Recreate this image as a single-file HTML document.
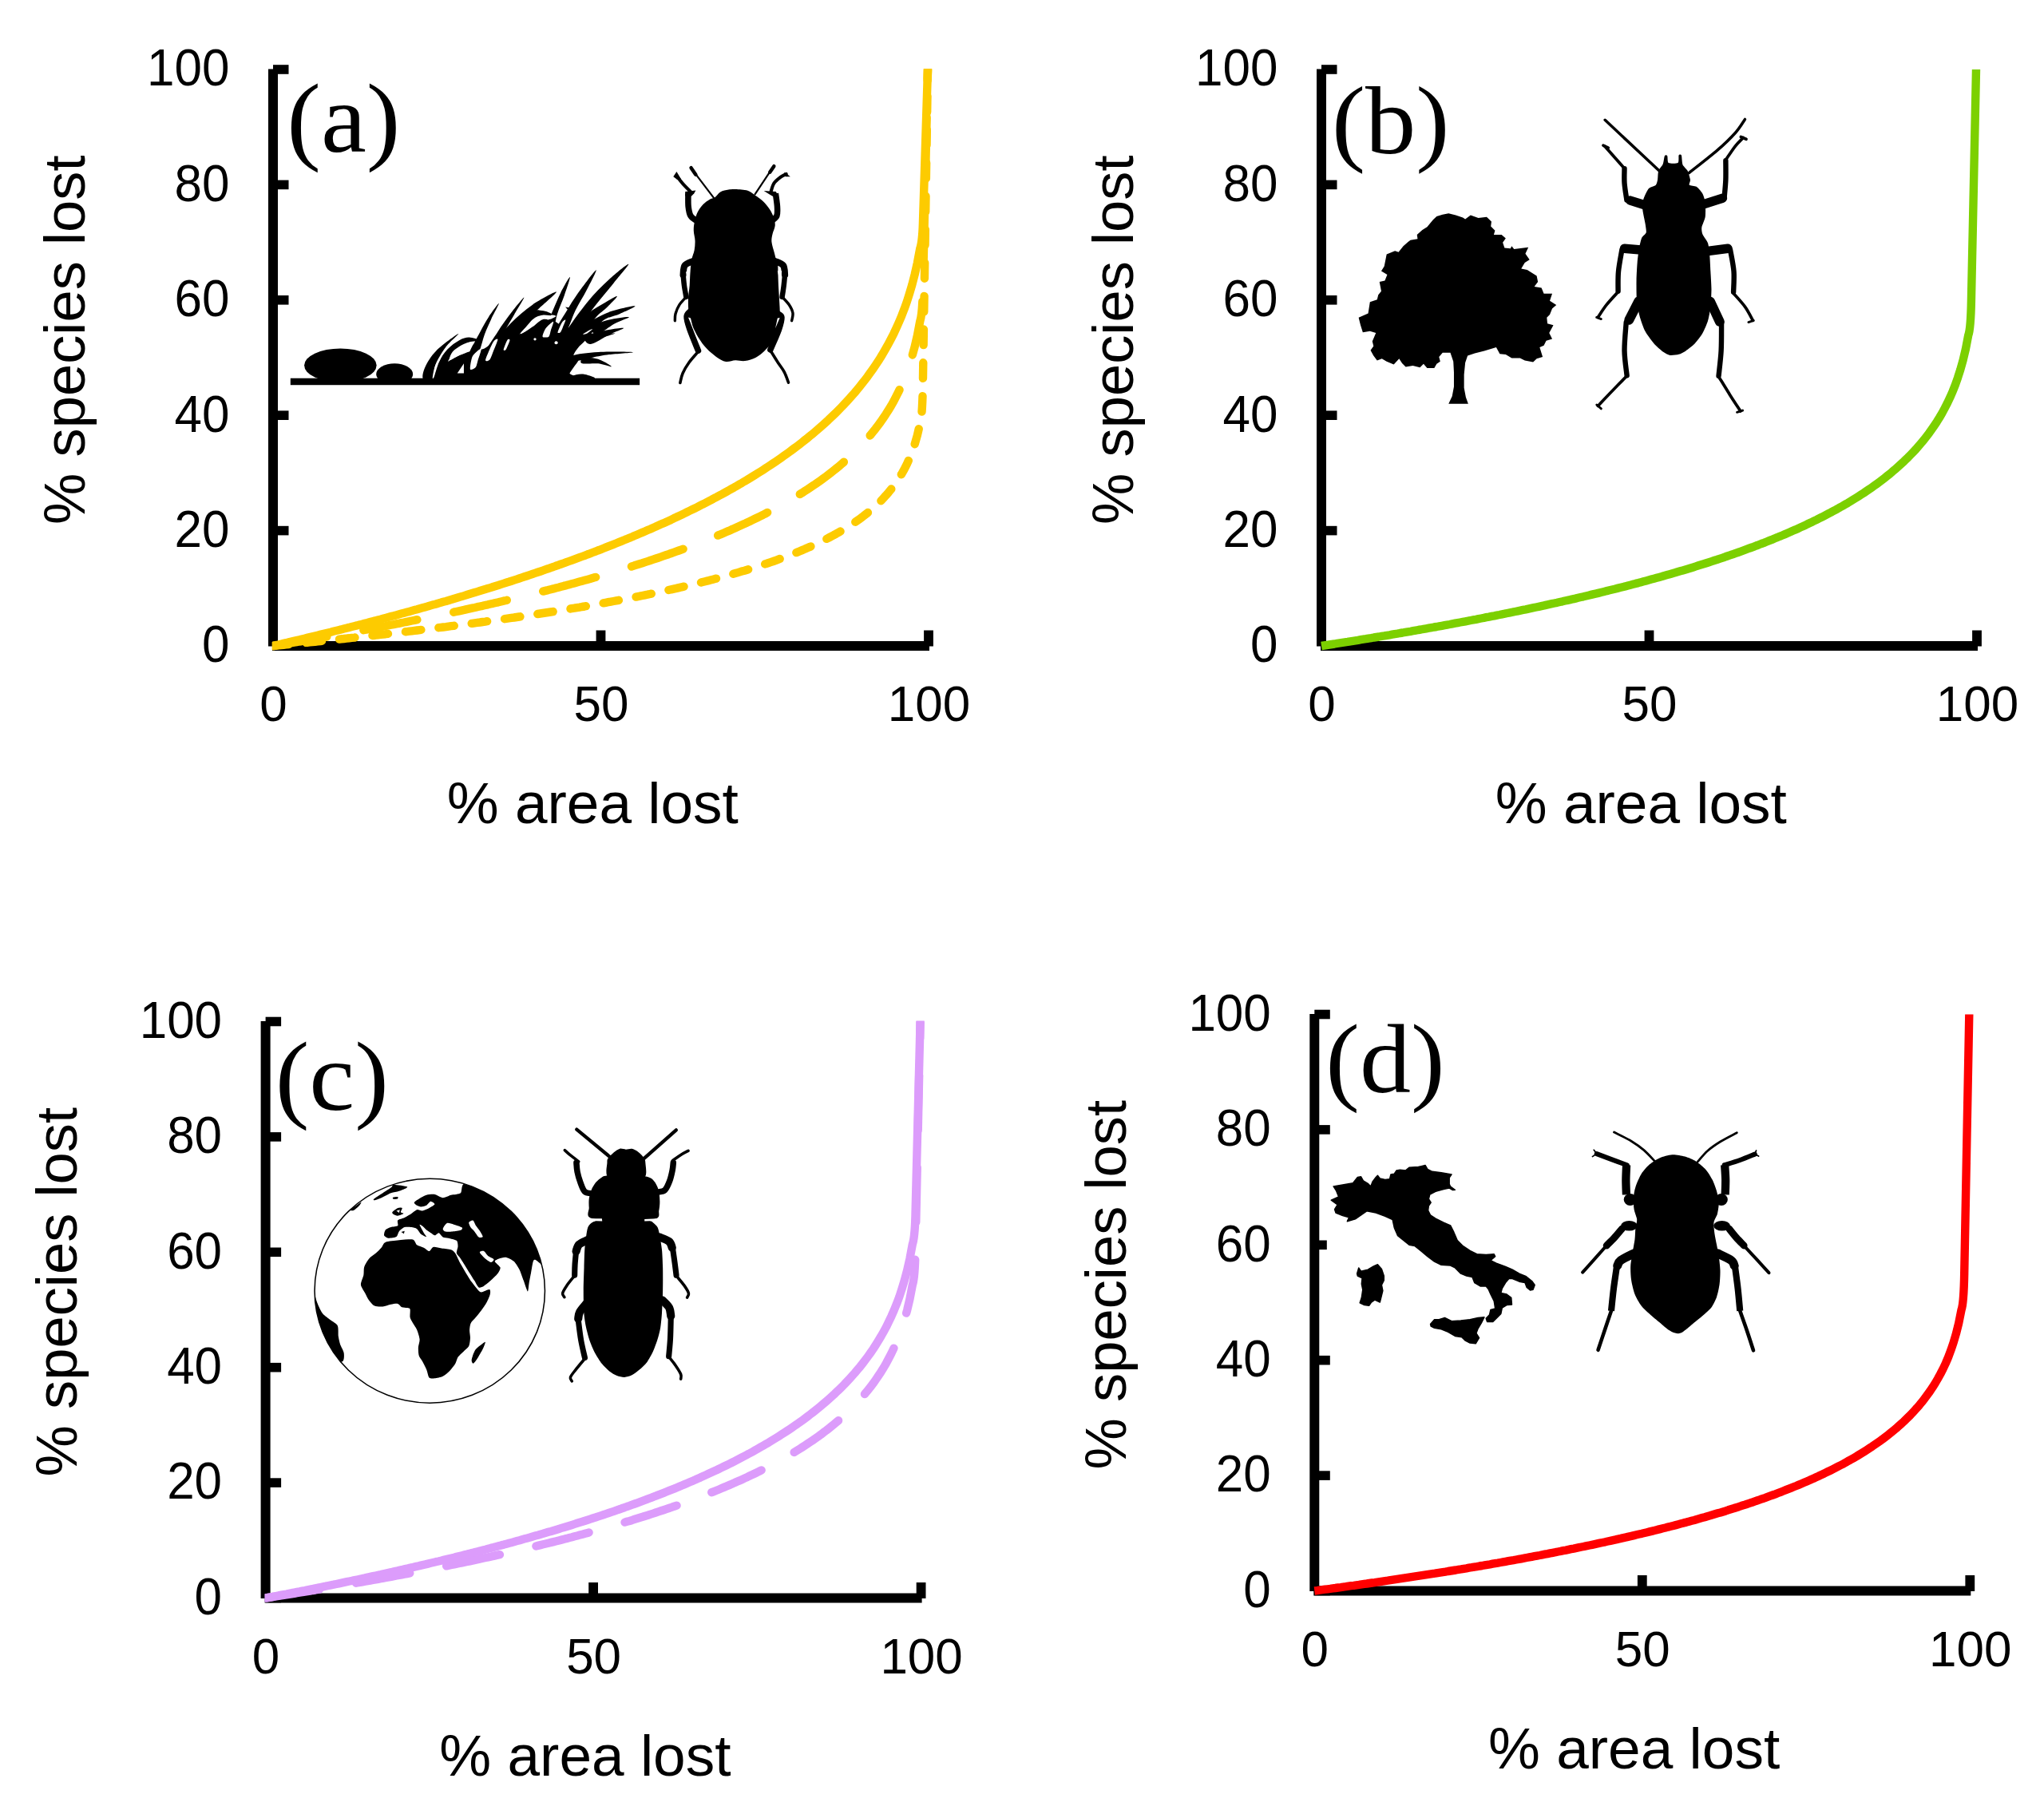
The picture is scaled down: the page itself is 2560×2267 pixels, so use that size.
<!DOCTYPE html>
<html><head><meta charset="utf-8"><title>Species-area loss curves</title>
<style>
html,body{margin:0;padding:0;background:#fff;}
svg{display:block;}
.t{font-family:"Liberation Sans",sans-serif;font-size:62px;fill:#000;}
.a{font-family:"Liberation Sans",sans-serif;font-size:73px;fill:#000;}
.p{font-family:"Liberation Serif",serif;font-size:128px;fill:#000;}
</style></head><body>
<svg width="2560" height="2267" viewBox="0 0 2560 2267">
<rect width="2560" height="2267" fill="#fff"/>
<g>
<rect x="336" y="86.5" width="12" height="723" fill="#000"/>
<rect x="341" y="803" width="823" height="12" fill="#000"/>
<rect x="342" y="803.2" width="19.5" height="11.6" fill="#000"/>
<rect x="342" y="658.8" width="19.5" height="11.6" fill="#000"/>
<rect x="342" y="514.4" width="19.5" height="11.6" fill="#000"/>
<rect x="342" y="370" width="19.5" height="11.6" fill="#000"/>
<rect x="342" y="225.6" width="19.5" height="11.6" fill="#000"/>
<rect x="342" y="81.2" width="19.5" height="11.6" fill="#000"/>
<rect x="746.6" y="789.5" width="11.8" height="19.5" fill="#000"/>
<rect x="1157.1" y="789.5" width="11.8" height="20" fill="#000"/>
<text class="t" text-anchor="end" transform="translate(287.5 829.3) scale(1 1.035)">0</text>
<text class="t" text-anchor="end" transform="translate(287.5 684.9) scale(1 1.035)">20</text>
<text class="t" text-anchor="end" transform="translate(287.5 540.5) scale(1 1.035)">40</text>
<text class="t" text-anchor="end" transform="translate(287.5 396.1) scale(1 1.035)">60</text>
<text class="t" text-anchor="end" transform="translate(287.5 251.7) scale(1 1.035)">80</text>
<text class="t" text-anchor="end" transform="translate(287.5 107.3) scale(1 1.035)">100</text>
<text class="t" text-anchor="middle" transform="translate(342.5 903.3) scale(1 1.025)">0</text>
<text class="t" text-anchor="middle" transform="translate(753 903.3) scale(1 1.025)">50</text>
<text class="t" text-anchor="middle" transform="translate(1163.5 903.3) scale(1 1.025)">100</text>
<text class="a" text-anchor="middle" x="742.3" y="1031">% area lost</text>
<text class="a" style="font-size:72.4px" text-anchor="middle" transform="translate(105.7 425.7) rotate(-90)">% species lost</text>
<text class="p" transform="translate(359.3 190) scale(1 0.962)">(a)</text>
<clipPath id="cla"><rect x="340.8" y="86" width="840" height="740"/></clipPath>
<g clip-path="url(#cla)">
<path d="M342 809 L345.3 808.7 L348.6 808.4 L351.8 808 L355.1 807.7 L358.4 807.4 L361.7 807.1 L365 806.7 L368.2 806.4 L371.5 806.1 L374.8 805.8 L378.1 805.4 L381.4 805.1 L384.6 804.8 L387.9 804.4 L391.2 804.1 L394.5 803.8 L397.8 803.4 L401 803.1 L404.3 802.7 L407.6 802.4 L410.9 802.1 L414.2 801.7 L417.4 801.4 L420.7 801 L424 800.7 L427.3 800.3 L430.6 800 L433.8 799.6 L437.1 799.3 L440.4 798.9 L443.7 798.6 L447 798.2 L450.2 797.8 L453.5 797.5 L456.8 797.1 L460.1 796.8 L463.4 796.4 L466.6 796 L469.9 795.7 L473.2 795.3 L476.5 794.9 L479.8 794.5 L483 794.2 L486.3 793.8 L489.6 793.4 L492.9 793 L496.2 792.6 L499.4 792.3 L502.7 791.9 L506 791.5 L509.3 791.1 L512.6 790.7 L515.8 790.3 L519.1 789.9 L522.4 789.5 L525.7 789.1 L529 788.7 L532.2 788.3 L535.5 787.9 L538.8 787.5 L542.1 787.1 L545.4 786.7 L548.6 786.3 L551.9 785.9 L555.2 785.5 L558.5 785.1 L561.8 784.6 L565 784.2 L568.3 783.8 L571.6 783.4 L574.9 782.9 L578.2 782.5 L581.4 782.1 L584.7 781.7 L588 781.2 L591.3 780.8 L594.6 780.3 L597.8 779.9 L601.1 779.5 L604.4 779 L607.7 778.6 L611 778.1 L614.2 777.7 L617.5 777.2 L620.8 776.7 L624.1 776.3 L627.4 775.8 L630.6 775.4 L633.9 774.9 L637.2 774.4 L640.5 773.9 L643.8 773.5 L647 773 L650.3 772.5 L653.6 772 L656.9 771.5 L660.2 771 L663.4 770.5 L666.7 770 L670 769.5 L673.3 769 L676.6 768.5 L679.8 768 L683.1 767.5 L686.4 767 L689.7 766.5 L693 766 L696.2 765.4 L699.5 764.9 L702.8 764.4 L706.1 763.9 L709.4 763.3 L712.6 762.8 L715.9 762.2 L719.2 761.7 L722.5 761.1 L725.8 760.6 L729 760 L732.3 759.5 L735.6 758.9 L738.9 758.3 L742.2 757.7 L745.4 757.2 L748.7 756.6 L752 756 L755.3 755.4 L758.6 754.8 L761.8 754.2 L765.1 753.6 L768.4 753 L771.7 752.4 L775 751.8 L778.2 751.1 L781.5 750.5 L784.8 749.9 L788.1 749.3 L791.4 748.6 L794.6 748 L797.9 747.3 L801.2 746.7 L804.5 746 L807.8 745.3 L811 744.7 L814.3 744 L817.6 743.3 L820.9 742.6 L824.2 741.9 L827.4 741.2 L830.7 740.5 L834 739.8 L837.3 739.1 L840.6 738.3 L843.8 737.6 L847.1 736.9 L850.4 736.1 L853.7 735.3 L857 734.6 L860.2 733.8 L863.5 733 L866.8 732.3 L870.1 731.5 L873.4 730.7 L876.6 729.9 L879.9 729 L883.2 728.2 L886.5 727.4 L889.8 726.5 L893 725.7 L896.3 724.8 L899.6 723.9 L902.9 723.1 L906.2 722.2 L909.4 721.3 L912.7 720.4 L916 719.4 L919.3 718.5 L922.6 717.6 L925.8 716.6 L929.1 715.6 L932.4 714.7 L935.7 713.7 L939 712.7 L942.2 711.6 L945.5 710.6 L948.8 709.6 L952.1 708.5 L955.4 707.4 L958.6 706.3 L961.9 705.2 L965.2 704.1 L968.5 703 L971.8 701.8 L975 700.6 L978.3 699.4 L981.6 698.2 L984.9 697 L988.2 695.7 L991.4 694.5 L994.7 693.2 L998 691.9 L1001.3 690.5 L1004.6 689.1 L1007.8 687.8 L1011.1 686.3 L1014.4 684.9 L1017.7 683.4 L1021 681.9 L1024.2 680.4 L1027.5 678.8 L1030.8 677.2 L1034.1 675.5 L1037.4 673.9 L1040.6 672.1 L1043.9 670.4 L1047.2 668.6 L1050.5 666.7 L1053.8 664.8 L1057 662.9 L1060.3 660.9 L1063.6 658.8 L1066.9 656.7 L1070.2 654.5 L1073.4 652.2 L1076.7 649.9 L1080 647.5 L1083.3 644.9 L1086.6 642.3 L1089.8 639.6 L1093.1 636.8 L1096.4 633.9 L1099.7 630.8 L1103 627.6 L1106.2 624.2 L1109.5 620.6 L1112.8 616.8 L1116.1 612.8 L1119.4 608.6 L1122.6 604 L1125.9 599.1 L1129.2 593.7 L1132.5 587.9 L1135.8 581.4 L1139 574.2 L1142.3 566 L1145.6 556.5 L1148.9 545.1 L1152.2 530.9 Q1155.2 524.2 1155.9 478.5 L1162 87" fill="none" stroke="#FDCB00" stroke-width="10.4" stroke-linecap="round" stroke-linejoin="round" stroke-dasharray="19.6 22.12"/>
<path d="M342 809 L345.3 808.5 L348.6 807.9 L351.8 807.4 L355.1 806.8 L358.4 806.3 L361.7 805.7 L365 805.2 L368.2 804.6 L371.5 804.1 L374.8 803.5 L378.1 803 L381.4 802.4 L384.6 801.8 L387.9 801.3 L391.2 800.7 L394.5 800.1 L397.8 799.6 L401 799 L404.3 798.4 L407.6 797.8 L410.9 797.3 L414.2 796.7 L417.4 796.1 L420.7 795.5 L424 794.9 L427.3 794.3 L430.6 793.7 L433.8 793.1 L437.1 792.5 L440.4 791.9 L443.7 791.3 L447 790.7 L450.2 790.1 L453.5 789.5 L456.8 788.9 L460.1 788.3 L463.4 787.7 L466.6 787.1 L469.9 786.5 L473.2 785.8 L476.5 785.2 L479.8 784.6 L483 784 L486.3 783.3 L489.6 782.7 L492.9 782.1 L496.2 781.4 L499.4 780.8 L502.7 780.1 L506 779.5 L509.3 778.8 L512.6 778.2 L515.8 777.5 L519.1 776.9 L522.4 776.2 L525.7 775.6 L529 774.9 L532.2 774.2 L535.5 773.6 L538.8 772.9 L542.1 772.2 L545.4 771.5 L548.6 770.8 L551.9 770.2 L555.2 769.5 L558.5 768.8 L561.8 768.1 L565 767.4 L568.3 766.7 L571.6 766 L574.9 765.3 L578.2 764.6 L581.4 763.9 L584.7 763.1 L588 762.4 L591.3 761.7 L594.6 761 L597.8 760.2 L601.1 759.5 L604.4 758.8 L607.7 758 L611 757.3 L614.2 756.5 L617.5 755.8 L620.8 755 L624.1 754.3 L627.4 753.5 L630.6 752.7 L633.9 752 L637.2 751.2 L640.5 750.4 L643.8 749.6 L647 748.8 L650.3 748.1 L653.6 747.3 L656.9 746.5 L660.2 745.7 L663.4 744.9 L666.7 744 L670 743.2 L673.3 742.4 L676.6 741.6 L679.8 740.7 L683.1 739.9 L686.4 739.1 L689.7 738.2 L693 737.4 L696.2 736.5 L699.5 735.7 L702.8 734.8 L706.1 733.9 L709.4 733.1 L712.6 732.2 L715.9 731.3 L719.2 730.4 L722.5 729.5 L725.8 728.6 L729 727.7 L732.3 726.8 L735.6 725.9 L738.9 725 L742.2 724 L745.4 723.1 L748.7 722.2 L752 721.2 L755.3 720.3 L758.6 719.3 L761.8 718.4 L765.1 717.4 L768.4 716.4 L771.7 715.4 L775 714.4 L778.2 713.4 L781.5 712.4 L784.8 711.4 L788.1 710.4 L791.4 709.4 L794.6 708.3 L797.9 707.3 L801.2 706.2 L804.5 705.2 L807.8 704.1 L811 703.1 L814.3 702 L817.6 700.9 L820.9 699.8 L824.2 698.7 L827.4 697.6 L830.7 696.4 L834 695.3 L837.3 694.2 L840.6 693 L843.8 691.9 L847.1 690.7 L850.4 689.5 L853.7 688.3 L857 687.1 L860.2 685.9 L863.5 684.7 L866.8 683.4 L870.1 682.2 L873.4 680.9 L876.6 679.7 L879.9 678.4 L883.2 677.1 L886.5 675.8 L889.8 674.5 L893 673.1 L896.3 671.8 L899.6 670.4 L902.9 669.1 L906.2 667.7 L909.4 666.3 L912.7 664.9 L916 663.4 L919.3 662 L922.6 660.5 L925.8 659.1 L929.1 657.6 L932.4 656.1 L935.7 654.5 L939 653 L942.2 651.4 L945.5 649.8 L948.8 648.2 L952.1 646.6 L955.4 645 L958.6 643.3 L961.9 641.6 L965.2 639.9 L968.5 638.2 L971.8 636.4 L975 634.6 L978.3 632.8 L981.6 631 L984.9 629.1 L988.2 627.2 L991.4 625.3 L994.7 623.3 L998 621.4 L1001.3 619.3 L1004.6 617.3 L1007.8 615.2 L1011.1 613.1 L1014.4 610.9 L1017.7 608.7 L1021 606.5 L1024.2 604.2 L1027.5 601.9 L1030.8 599.5 L1034.1 597.1 L1037.4 594.6 L1040.6 592.1 L1043.9 589.5 L1047.2 586.9 L1050.5 584.2 L1053.8 581.4 L1057 578.6 L1060.3 575.7 L1063.6 572.7 L1066.9 569.6 L1070.2 566.4 L1073.4 563.2 L1076.7 559.8 L1080 556.4 L1083.3 552.8 L1086.6 549.1 L1089.8 545.3 L1093.1 541.3 L1096.4 537.2 L1099.7 532.9 L1103 528.4 L1106.2 523.7 L1109.5 518.8 L1112.8 513.6 L1116.1 508.2 L1119.4 502.4 L1122.6 496.2 L1125.9 489.6 L1129.2 482.5 L1132.5 474.8 L1135.8 466.3 L1139 457 L1142.3 446.4 L1145.6 434.4 L1148.9 420.2 L1152.2 402.8 Q1155.2 394.3 1155.9 361.7 L1162 87" fill="none" stroke="#FDCB00" stroke-width="10.4" stroke-linecap="round" stroke-linejoin="round" stroke-dasharray="68.3 46.75"/>
<path d="M342 809 L345.3 808.2 L348.6 807.5 L351.8 806.7 L355.1 805.9 L358.4 805.2 L361.7 804.4 L365 803.6 L368.2 802.8 L371.5 802 L374.8 801.3 L378.1 800.5 L381.4 799.7 L384.6 798.9 L387.9 798.1 L391.2 797.3 L394.5 796.5 L397.8 795.7 L401 794.9 L404.3 794.1 L407.6 793.3 L410.9 792.5 L414.2 791.7 L417.4 790.8 L420.7 790 L424 789.2 L427.3 788.4 L430.6 787.5 L433.8 786.7 L437.1 785.9 L440.4 785 L443.7 784.2 L447 783.4 L450.2 782.5 L453.5 781.7 L456.8 780.8 L460.1 780 L463.4 779.1 L466.6 778.2 L469.9 777.4 L473.2 776.5 L476.5 775.7 L479.8 774.8 L483 773.9 L486.3 773 L489.6 772.1 L492.9 771.3 L496.2 770.4 L499.4 769.5 L502.7 768.6 L506 767.7 L509.3 766.8 L512.6 765.9 L515.8 765 L519.1 764.1 L522.4 763.2 L525.7 762.2 L529 761.3 L532.2 760.4 L535.5 759.5 L538.8 758.5 L542.1 757.6 L545.4 756.7 L548.6 755.7 L551.9 754.8 L555.2 753.8 L558.5 752.9 L561.8 751.9 L565 751 L568.3 750 L571.6 749 L574.9 748 L578.2 747.1 L581.4 746.1 L584.7 745.1 L588 744.1 L591.3 743.1 L594.6 742.1 L597.8 741.1 L601.1 740.1 L604.4 739.1 L607.7 738.1 L611 737.1 L614.2 736.1 L617.5 735 L620.8 734 L624.1 733 L627.4 731.9 L630.6 730.9 L633.9 729.8 L637.2 728.8 L640.5 727.7 L643.8 726.6 L647 725.6 L650.3 724.5 L653.6 723.4 L656.9 722.3 L660.2 721.2 L663.4 720.1 L666.7 719 L670 717.9 L673.3 716.8 L676.6 715.7 L679.8 714.6 L683.1 713.4 L686.4 712.3 L689.7 711.1 L693 710 L696.2 708.8 L699.5 707.7 L702.8 706.5 L706.1 705.4 L709.4 704.2 L712.6 703 L715.9 701.8 L719.2 700.6 L722.5 699.4 L725.8 698.2 L729 697 L732.3 695.8 L735.6 694.5 L738.9 693.3 L742.2 692 L745.4 690.8 L748.7 689.5 L752 688.3 L755.3 687 L758.6 685.7 L761.8 684.4 L765.1 683.1 L768.4 681.8 L771.7 680.5 L775 679.2 L778.2 677.9 L781.5 676.5 L784.8 675.2 L788.1 673.8 L791.4 672.5 L794.6 671.1 L797.9 669.7 L801.2 668.3 L804.5 666.9 L807.8 665.5 L811 664.1 L814.3 662.7 L817.6 661.2 L820.9 659.8 L824.2 658.3 L827.4 656.8 L830.7 655.4 L834 653.9 L837.3 652.4 L840.6 650.9 L843.8 649.3 L847.1 647.8 L850.4 646.2 L853.7 644.7 L857 643.1 L860.2 641.5 L863.5 639.9 L866.8 638.3 L870.1 636.7 L873.4 635.1 L876.6 633.4 L879.9 631.7 L883.2 630.1 L886.5 628.4 L889.8 626.7 L893 624.9 L896.3 623.2 L899.6 621.4 L902.9 619.7 L906.2 617.9 L909.4 616.1 L912.7 614.2 L916 612.4 L919.3 610.6 L922.6 608.7 L925.8 606.8 L929.1 604.9 L932.4 602.9 L935.7 601 L939 599 L942.2 597 L945.5 595 L948.8 592.9 L952.1 590.9 L955.4 588.8 L958.6 586.7 L961.9 584.5 L965.2 582.4 L968.5 580.2 L971.8 577.9 L975 575.7 L978.3 573.4 L981.6 571.1 L984.9 568.8 L988.2 566.4 L991.4 564 L994.7 561.5 L998 559.1 L1001.3 556.6 L1004.6 554 L1007.8 551.4 L1011.1 548.8 L1014.4 546.1 L1017.7 543.4 L1021 540.6 L1024.2 537.8 L1027.5 535 L1030.8 532.1 L1034.1 529.1 L1037.4 526.1 L1040.6 523 L1043.9 519.9 L1047.2 516.7 L1050.5 513.4 L1053.8 510 L1057 506.6 L1060.3 503.1 L1063.6 499.5 L1066.9 495.8 L1070.2 492.1 L1073.4 488.2 L1076.7 484.2 L1080 480.1 L1083.3 475.9 L1086.6 471.6 L1089.8 467.1 L1093.1 462.4 L1096.4 457.6 L1099.7 452.7 L1103 447.5 L1106.2 442.1 L1109.5 436.4 L1112.8 430.5 L1116.1 424.3 L1119.4 417.8 L1122.6 410.9 L1125.9 403.5 L1129.2 395.7 L1132.5 387.2 L1135.8 378 L1139 367.9 L1142.3 356.7 L1145.6 344 L1148.9 329.3 L1152.2 311.6 Q1155.2 303.2 1155.9 279.7 L1162 87" fill="none" stroke="#FDCB00" stroke-width="10.4" stroke-linejoin="round"/>
</g>
</g>
<g>
<rect x="1649" y="86.5" width="12" height="723" fill="#000"/>
<rect x="1654" y="803" width="823" height="12" fill="#000"/>
<rect x="1655" y="803.2" width="19.5" height="11.6" fill="#000"/>
<rect x="1655" y="658.8" width="19.5" height="11.6" fill="#000"/>
<rect x="1655" y="514.4" width="19.5" height="11.6" fill="#000"/>
<rect x="1655" y="370" width="19.5" height="11.6" fill="#000"/>
<rect x="1655" y="225.6" width="19.5" height="11.6" fill="#000"/>
<rect x="1655" y="81.2" width="19.5" height="11.6" fill="#000"/>
<rect x="2059.6" y="789.5" width="11.8" height="19.5" fill="#000"/>
<rect x="2470.1" y="789.5" width="11.8" height="20" fill="#000"/>
<text class="t" text-anchor="end" transform="translate(1600.5 829.3) scale(1 1.035)">0</text>
<text class="t" text-anchor="end" transform="translate(1600.5 684.9) scale(1 1.035)">20</text>
<text class="t" text-anchor="end" transform="translate(1600.5 540.5) scale(1 1.035)">40</text>
<text class="t" text-anchor="end" transform="translate(1600.5 396.1) scale(1 1.035)">60</text>
<text class="t" text-anchor="end" transform="translate(1600.5 251.7) scale(1 1.035)">80</text>
<text class="t" text-anchor="end" transform="translate(1600.5 107.3) scale(1 1.035)">100</text>
<text class="t" text-anchor="middle" transform="translate(1655.5 903.3) scale(1 1.025)">0</text>
<text class="t" text-anchor="middle" transform="translate(2066 903.3) scale(1 1.025)">50</text>
<text class="t" text-anchor="middle" transform="translate(2476.5 903.3) scale(1 1.025)">100</text>
<text class="a" text-anchor="middle" x="2055.3" y="1031">% area lost</text>
<text class="a" style="font-size:72.4px" text-anchor="middle" transform="translate(1418.7 425.7) rotate(-90)">% species lost</text>
<text class="p" transform="translate(1668 191.5) scale(1 0.962)" style="font-size:126.5px">(b)</text>
<clipPath id="clb"><rect x="1653.8" y="86" width="840" height="740"/></clipPath>
<g clip-path="url(#clb)">
<path d="M1655 809 L1658.3 808.5 L1661.6 808 L1664.8 807.5 L1668.1 807 L1671.4 806.5 L1674.7 805.9 L1678 805.4 L1681.2 804.9 L1684.5 804.4 L1687.8 803.9 L1691.1 803.3 L1694.4 802.8 L1697.6 802.3 L1700.9 801.8 L1704.2 801.2 L1707.5 800.7 L1710.8 800.2 L1714 799.6 L1717.3 799.1 L1720.6 798.5 L1723.9 798 L1727.2 797.5 L1730.4 796.9 L1733.7 796.4 L1737 795.8 L1740.3 795.3 L1743.6 794.7 L1746.8 794.1 L1750.1 793.6 L1753.4 793 L1756.7 792.5 L1760 791.9 L1763.2 791.3 L1766.5 790.8 L1769.8 790.2 L1773.1 789.6 L1776.4 789 L1779.6 788.5 L1782.9 787.9 L1786.2 787.3 L1789.5 786.7 L1792.8 786.1 L1796 785.5 L1799.3 785 L1802.6 784.4 L1805.9 783.8 L1809.2 783.2 L1812.4 782.6 L1815.7 782 L1819 781.3 L1822.3 780.7 L1825.6 780.1 L1828.8 779.5 L1832.1 778.9 L1835.4 778.3 L1838.7 777.7 L1842 777 L1845.2 776.4 L1848.5 775.8 L1851.8 775.1 L1855.1 774.5 L1858.4 773.9 L1861.6 773.2 L1864.9 772.6 L1868.2 771.9 L1871.5 771.3 L1874.8 770.6 L1878 770 L1881.3 769.3 L1884.6 768.7 L1887.9 768 L1891.2 767.3 L1894.4 766.7 L1897.7 766 L1901 765.3 L1904.3 764.6 L1907.6 763.9 L1910.8 763.3 L1914.1 762.6 L1917.4 761.9 L1920.7 761.2 L1924 760.5 L1927.2 759.8 L1930.5 759.1 L1933.8 758.4 L1937.1 757.6 L1940.4 756.9 L1943.6 756.2 L1946.9 755.5 L1950.2 754.8 L1953.5 754 L1956.8 753.3 L1960 752.5 L1963.3 751.8 L1966.6 751.1 L1969.9 750.3 L1973.2 749.6 L1976.4 748.8 L1979.7 748 L1983 747.3 L1986.3 746.5 L1989.6 745.7 L1992.8 744.9 L1996.1 744.1 L1999.4 743.4 L2002.7 742.6 L2006 741.8 L2009.2 741 L2012.5 740.1 L2015.8 739.3 L2019.1 738.5 L2022.4 737.7 L2025.6 736.9 L2028.9 736 L2032.2 735.2 L2035.5 734.4 L2038.8 733.5 L2042 732.7 L2045.3 731.8 L2048.6 730.9 L2051.9 730.1 L2055.2 729.2 L2058.4 728.3 L2061.7 727.4 L2065 726.5 L2068.3 725.6 L2071.6 724.7 L2074.8 723.8 L2078.1 722.9 L2081.4 722 L2084.7 721 L2088 720.1 L2091.2 719.2 L2094.5 718.2 L2097.8 717.3 L2101.1 716.3 L2104.4 715.3 L2107.6 714.4 L2110.9 713.4 L2114.2 712.4 L2117.5 711.4 L2120.8 710.4 L2124 709.4 L2127.3 708.3 L2130.6 707.3 L2133.9 706.3 L2137.2 705.2 L2140.4 704.2 L2143.7 703.1 L2147 702 L2150.3 701 L2153.6 699.9 L2156.8 698.8 L2160.1 697.7 L2163.4 696.5 L2166.7 695.4 L2170 694.3 L2173.2 693.1 L2176.5 692 L2179.8 690.8 L2183.1 689.6 L2186.4 688.4 L2189.6 687.2 L2192.9 686 L2196.2 684.8 L2199.5 683.5 L2202.8 682.3 L2206 681 L2209.3 679.8 L2212.6 678.5 L2215.9 677.2 L2219.2 675.9 L2222.4 674.5 L2225.7 673.2 L2229 671.8 L2232.3 670.5 L2235.6 669.1 L2238.8 667.7 L2242.1 666.3 L2245.4 664.8 L2248.7 663.4 L2252 661.9 L2255.2 660.4 L2258.5 658.9 L2261.8 657.4 L2265.1 655.8 L2268.4 654.3 L2271.6 652.7 L2274.9 651.1 L2278.2 649.4 L2281.5 647.8 L2284.8 646.1 L2288 644.4 L2291.3 642.7 L2294.6 640.9 L2297.9 639.2 L2301.2 637.4 L2304.4 635.5 L2307.7 633.7 L2311 631.8 L2314.3 629.9 L2317.6 627.9 L2320.8 625.9 L2324.1 623.9 L2327.4 621.8 L2330.7 619.7 L2334 617.6 L2337.2 615.4 L2340.5 613.2 L2343.8 610.9 L2347.1 608.6 L2350.4 606.2 L2353.6 603.8 L2356.9 601.3 L2360.2 598.8 L2363.5 596.2 L2366.8 593.6 L2370 590.8 L2373.3 588.1 L2376.6 585.2 L2379.9 582.2 L2383.2 579.2 L2386.4 576.1 L2389.7 572.9 L2393 569.5 L2396.3 566.1 L2399.6 562.6 L2402.8 558.9 L2406.1 555 L2409.4 551.1 L2412.7 546.9 L2416 542.6 L2419.2 538.1 L2422.5 533.3 L2425.8 528.3 L2429.1 523 L2432.4 517.4 L2435.6 511.4 L2438.9 505 L2442.2 498.1 L2445.5 490.5 L2448.8 482.3 L2452 473.2 L2455.3 462.9 L2458.6 451.1 L2461.9 437.2 L2465.2 420 Q2468.2 411.7 2468.9 377.3 L2475 87" fill="none" stroke="#7CD000" stroke-width="10.4" stroke-linejoin="round"/>
</g>
</g>
<g>
<rect x="326.6" y="1279" width="12" height="723" fill="#000"/>
<rect x="331.6" y="1995.5" width="823" height="12" fill="#000"/>
<rect x="332.6" y="1995.7" width="19.5" height="11.6" fill="#000"/>
<rect x="332.6" y="1851.3" width="19.5" height="11.6" fill="#000"/>
<rect x="332.6" y="1706.9" width="19.5" height="11.6" fill="#000"/>
<rect x="332.6" y="1562.5" width="19.5" height="11.6" fill="#000"/>
<rect x="332.6" y="1418.1" width="19.5" height="11.6" fill="#000"/>
<rect x="332.6" y="1273.7" width="19.5" height="11.6" fill="#000"/>
<rect x="737.2" y="1982" width="11.8" height="19.5" fill="#000"/>
<rect x="1147.7" y="1982" width="11.8" height="20" fill="#000"/>
<text class="t" text-anchor="end" transform="translate(278.1 2021.8) scale(1 1.035)">0</text>
<text class="t" text-anchor="end" transform="translate(278.1 1877.4) scale(1 1.035)">20</text>
<text class="t" text-anchor="end" transform="translate(278.1 1733) scale(1 1.035)">40</text>
<text class="t" text-anchor="end" transform="translate(278.1 1588.6) scale(1 1.035)">60</text>
<text class="t" text-anchor="end" transform="translate(278.1 1444.2) scale(1 1.035)">80</text>
<text class="t" text-anchor="end" transform="translate(278.1 1299.8) scale(1 1.035)">100</text>
<text class="t" text-anchor="middle" transform="translate(333.1 2095.8) scale(1 1.025)">0</text>
<text class="t" text-anchor="middle" transform="translate(743.6 2095.8) scale(1 1.025)">50</text>
<text class="t" text-anchor="middle" transform="translate(1154.1 2095.8) scale(1 1.025)">100</text>
<text class="a" text-anchor="middle" x="732.9" y="2223.5">% area lost</text>
<text class="a" style="font-size:72.4px" text-anchor="middle" transform="translate(96.3 1618.2) rotate(-90)">% species lost</text>
<text class="p" transform="translate(344.7 1390) scale(1 0.962)">(c)</text>
<clipPath id="clc"><rect x="331.4" y="1278.5" width="840" height="740"/></clipPath>
<g clip-path="url(#clc)">
<path d="M332.6 2001.5 L335.9 2001 L339.2 2000.5 L342.4 2000 L345.7 1999.4 L349 1998.9 L352.3 1998.4 L355.6 1997.9 L358.8 1997.4 L362.1 1996.8 L365.4 1996.3 L368.7 1995.8 L372 1995.2 L375.2 1994.7 L378.5 1994.2 L381.8 1993.6 L385.1 1993.1 L388.4 1992.6 L391.6 1992 L394.9 1991.5 L398.2 1990.9 L401.5 1990.4 L404.8 1989.8 L408 1989.3 L411.3 1988.7 L414.6 1988.2 L417.9 1987.6 L421.2 1987 L424.4 1986.5 L427.7 1985.9 L431 1985.3 L434.3 1984.8 L437.6 1984.2 L440.8 1983.6 L444.1 1983.1 L447.4 1982.5 L450.7 1981.9 L454 1981.3 L457.2 1980.7 L460.5 1980.1 L463.8 1979.6 L467.1 1979 L470.4 1978.4 L473.6 1977.8 L476.9 1977.2 L480.2 1976.6 L483.5 1976 L486.8 1975.4 L490 1974.8 L493.3 1974.2 L496.6 1973.5 L499.9 1972.9 L503.2 1972.3 L506.4 1971.7 L509.7 1971.1 L513 1970.4 L516.3 1969.8 L519.6 1969.2 L522.8 1968.5 L526.1 1967.9 L529.4 1967.3 L532.7 1966.6 L536 1966 L539.2 1965.3 L542.5 1964.7 L545.8 1964 L549.1 1963.4 L552.4 1962.7 L555.6 1962 L558.9 1961.4 L562.2 1960.7 L565.5 1960 L568.8 1959.4 L572 1958.7 L575.3 1958 L578.6 1957.3 L581.9 1956.6 L585.2 1956 L588.4 1955.3 L591.7 1954.6 L595 1953.9 L598.3 1953.2 L601.6 1952.4 L604.8 1951.7 L608.1 1951 L611.4 1950.3 L614.7 1949.6 L618 1948.9 L621.2 1948.1 L624.5 1947.4 L627.8 1946.7 L631.1 1945.9 L634.4 1945.2 L637.6 1944.4 L640.9 1943.7 L644.2 1942.9 L647.5 1942.2 L650.8 1941.4 L654 1940.6 L657.3 1939.9 L660.6 1939.1 L663.9 1938.3 L667.2 1937.5 L670.4 1936.7 L673.7 1935.9 L677 1935.1 L680.3 1934.3 L683.6 1933.5 L686.8 1932.7 L690.1 1931.9 L693.4 1931.1 L696.7 1930.3 L700 1929.4 L703.2 1928.6 L706.5 1927.7 L709.8 1926.9 L713.1 1926 L716.4 1925.2 L719.6 1924.3 L722.9 1923.5 L726.2 1922.6 L729.5 1921.7 L732.8 1920.8 L736 1919.9 L739.3 1919 L742.6 1918.1 L745.9 1917.2 L749.2 1916.3 L752.4 1915.4 L755.7 1914.5 L759 1913.5 L762.3 1912.6 L765.6 1911.7 L768.8 1910.7 L772.1 1909.7 L775.4 1908.8 L778.7 1907.8 L782 1906.8 L785.2 1905.8 L788.5 1904.9 L791.8 1903.9 L795.1 1902.8 L798.4 1901.8 L801.6 1900.8 L804.9 1899.8 L808.2 1898.7 L811.5 1897.7 L814.8 1896.6 L818 1895.6 L821.3 1894.5 L824.6 1893.4 L827.9 1892.3 L831.2 1891.2 L834.4 1890.1 L837.7 1889 L841 1887.9 L844.3 1886.7 L847.6 1885.6 L850.8 1884.4 L854.1 1883.2 L857.4 1882.1 L860.7 1880.9 L864 1879.7 L867.2 1878.5 L870.5 1877.2 L873.8 1876 L877.1 1874.7 L880.4 1873.5 L883.6 1872.2 L886.9 1870.9 L890.2 1869.6 L893.5 1868.3 L896.8 1867 L900 1865.7 L903.3 1864.3 L906.6 1862.9 L909.9 1861.5 L913.2 1860.1 L916.4 1858.7 L919.7 1857.3 L923 1855.8 L926.3 1854.4 L929.6 1852.9 L932.8 1851.4 L936.1 1849.9 L939.4 1848.3 L942.7 1846.8 L946 1845.2 L949.2 1843.6 L952.5 1842 L955.8 1840.3 L959.1 1838.7 L962.4 1837 L965.6 1835.3 L968.9 1833.5 L972.2 1831.8 L975.5 1830 L978.8 1828.2 L982 1826.3 L985.3 1824.4 L988.6 1822.5 L991.9 1820.6 L995.2 1818.6 L998.4 1816.6 L1001.7 1814.6 L1005 1812.5 L1008.3 1810.4 L1011.6 1808.2 L1014.8 1806 L1018.1 1803.8 L1021.4 1801.5 L1024.7 1799.2 L1028 1796.8 L1031.2 1794.3 L1034.5 1791.9 L1037.8 1789.3 L1041.1 1786.7 L1044.4 1784 L1047.6 1781.3 L1050.9 1778.5 L1054.2 1775.6 L1057.5 1772.6 L1060.8 1769.6 L1064 1766.4 L1067.3 1763.2 L1070.6 1759.8 L1073.9 1756.4 L1077.2 1752.8 L1080.4 1749.1 L1083.7 1745.2 L1087 1741.2 L1090.3 1737.1 L1093.6 1732.7 L1096.8 1728.1 L1100.1 1723.3 L1103.4 1718.3 L1106.7 1713 L1110 1707.3 L1113.2 1701.3 L1116.5 1694.9 L1119.8 1687.9 L1123.1 1680.4 L1126.4 1672.1 L1129.6 1662.9 L1132.9 1652.6 L1136.2 1640.8 L1139.5 1626.8 L1142.8 1609.5 Q1145.8 1601.2 1146.5 1567.1 L1152.6 1279.5" fill="none" stroke="#DC9CFB" stroke-width="10.4" stroke-linecap="round" stroke-linejoin="round" stroke-dasharray="68.3 46.75"/>
<path d="M332.6 2001.5 L335.9 2000.9 L339.2 2000.3 L342.4 1999.6 L345.7 1999 L349 1998.4 L352.3 1997.7 L355.6 1997.1 L358.8 1996.5 L362.1 1995.8 L365.4 1995.2 L368.7 1994.5 L372 1993.9 L375.2 1993.3 L378.5 1992.6 L381.8 1992 L385.1 1991.3 L388.4 1990.7 L391.6 1990 L394.9 1989.3 L398.2 1988.7 L401.5 1988 L404.8 1987.3 L408 1986.7 L411.3 1986 L414.6 1985.3 L417.9 1984.7 L421.2 1984 L424.4 1983.3 L427.7 1982.6 L431 1981.9 L434.3 1981.2 L437.6 1980.5 L440.8 1979.9 L444.1 1979.2 L447.4 1978.5 L450.7 1977.8 L454 1977.1 L457.2 1976.4 L460.5 1975.6 L463.8 1974.9 L467.1 1974.2 L470.4 1973.5 L473.6 1972.8 L476.9 1972.1 L480.2 1971.3 L483.5 1970.6 L486.8 1969.9 L490 1969.2 L493.3 1968.4 L496.6 1967.7 L499.9 1966.9 L503.2 1966.2 L506.4 1965.4 L509.7 1964.7 L513 1963.9 L516.3 1963.2 L519.6 1962.4 L522.8 1961.7 L526.1 1960.9 L529.4 1960.1 L532.7 1959.4 L536 1958.6 L539.2 1957.8 L542.5 1957 L545.8 1956.2 L549.1 1955.5 L552.4 1954.7 L555.6 1953.9 L558.9 1953.1 L562.2 1952.3 L565.5 1951.5 L568.8 1950.7 L572 1949.8 L575.3 1949 L578.6 1948.2 L581.9 1947.4 L585.2 1946.6 L588.4 1945.7 L591.7 1944.9 L595 1944 L598.3 1943.2 L601.6 1942.4 L604.8 1941.5 L608.1 1940.7 L611.4 1939.8 L614.7 1938.9 L618 1938.1 L621.2 1937.2 L624.5 1936.3 L627.8 1935.4 L631.1 1934.6 L634.4 1933.7 L637.6 1932.8 L640.9 1931.9 L644.2 1931 L647.5 1930.1 L650.8 1929.2 L654 1928.2 L657.3 1927.3 L660.6 1926.4 L663.9 1925.5 L667.2 1924.5 L670.4 1923.6 L673.7 1922.7 L677 1921.7 L680.3 1920.8 L683.6 1919.8 L686.8 1918.8 L690.1 1917.9 L693.4 1916.9 L696.7 1915.9 L700 1914.9 L703.2 1913.9 L706.5 1912.9 L709.8 1911.9 L713.1 1910.9 L716.4 1909.9 L719.6 1908.9 L722.9 1907.8 L726.2 1906.8 L729.5 1905.8 L732.8 1904.7 L736 1903.7 L739.3 1902.6 L742.6 1901.5 L745.9 1900.5 L749.2 1899.4 L752.4 1898.3 L755.7 1897.2 L759 1896.1 L762.3 1895 L765.6 1893.9 L768.8 1892.8 L772.1 1891.6 L775.4 1890.5 L778.7 1889.3 L782 1888.2 L785.2 1887 L788.5 1885.9 L791.8 1884.7 L795.1 1883.5 L798.4 1882.3 L801.6 1881.1 L804.9 1879.9 L808.2 1878.7 L811.5 1877.4 L814.8 1876.2 L818 1874.9 L821.3 1873.7 L824.6 1872.4 L827.9 1871.1 L831.2 1869.8 L834.4 1868.5 L837.7 1867.2 L841 1865.9 L844.3 1864.6 L847.6 1863.2 L850.8 1861.9 L854.1 1860.5 L857.4 1859.1 L860.7 1857.7 L864 1856.3 L867.2 1854.9 L870.5 1853.5 L873.8 1852 L877.1 1850.6 L880.4 1849.1 L883.6 1847.6 L886.9 1846.1 L890.2 1844.6 L893.5 1843.1 L896.8 1841.6 L900 1840 L903.3 1838.4 L906.6 1836.8 L909.9 1835.2 L913.2 1833.6 L916.4 1832 L919.7 1830.3 L923 1828.6 L926.3 1826.9 L929.6 1825.2 L932.8 1823.5 L936.1 1821.7 L939.4 1820 L942.7 1818.2 L946 1816.3 L949.2 1814.5 L952.5 1812.6 L955.8 1810.7 L959.1 1808.8 L962.4 1806.9 L965.6 1804.9 L968.9 1802.9 L972.2 1800.9 L975.5 1798.8 L978.8 1796.7 L982 1794.6 L985.3 1792.5 L988.6 1790.3 L991.9 1788.1 L995.2 1785.8 L998.4 1783.6 L1001.7 1781.2 L1005 1778.9 L1008.3 1776.5 L1011.6 1774 L1014.8 1771.5 L1018.1 1769 L1021.4 1766.4 L1024.7 1763.7 L1028 1761 L1031.2 1758.3 L1034.5 1755.5 L1037.8 1752.6 L1041.1 1749.7 L1044.4 1746.7 L1047.6 1743.6 L1050.9 1740.4 L1054.2 1737.2 L1057.5 1733.9 L1060.8 1730.4 L1064 1726.9 L1067.3 1723.3 L1070.6 1719.6 L1073.9 1715.7 L1077.2 1711.8 L1080.4 1707.7 L1083.7 1703.4 L1087 1699 L1090.3 1694.4 L1093.6 1689.6 L1096.8 1684.6 L1100.1 1679.3 L1103.4 1673.8 L1106.7 1668 L1110 1661.9 L1113.2 1655.3 L1116.5 1648.4 L1119.8 1640.9 L1123.1 1632.8 L1126.4 1624 L1129.6 1614.2 L1132.9 1603.3 L1136.2 1590.9 L1139.5 1576.3 L1142.8 1558.5 Q1145.8 1549.9 1146.5 1520.9 L1152.6 1279.5" fill="none" stroke="#DC9CFB" stroke-width="10.4" stroke-linejoin="round"/>
</g>
</g>
<g>
<rect x="1640.3" y="1270" width="12" height="723" fill="#000"/>
<rect x="1645.3" y="1986.5" width="823" height="12" fill="#000"/>
<rect x="1646.3" y="1986.7" width="19.5" height="11.6" fill="#000"/>
<rect x="1646.3" y="1842.3" width="19.5" height="11.6" fill="#000"/>
<rect x="1646.3" y="1697.9" width="19.5" height="11.6" fill="#000"/>
<rect x="1646.3" y="1553.5" width="15.5" height="11.6" fill="#000"/>
<rect x="1646.3" y="1409.1" width="19.5" height="11.6" fill="#000"/>
<rect x="1646.3" y="1264.7" width="19.5" height="11.6" fill="#000"/>
<rect x="2050.9" y="1973" width="11.8" height="19.5" fill="#000"/>
<rect x="2461.4" y="1973" width="11.8" height="20" fill="#000"/>
<text class="t" text-anchor="end" transform="translate(1591.8 2012.8) scale(1 1.035)">0</text>
<text class="t" text-anchor="end" transform="translate(1591.8 1868.4) scale(1 1.035)">20</text>
<text class="t" text-anchor="end" transform="translate(1591.8 1724) scale(1 1.035)">40</text>
<text class="t" text-anchor="end" transform="translate(1591.8 1579.6) scale(1 1.035)">60</text>
<text class="t" text-anchor="end" transform="translate(1591.8 1435.2) scale(1 1.035)">80</text>
<text class="t" text-anchor="end" transform="translate(1591.8 1290.8) scale(1 1.035)">100</text>
<text class="t" text-anchor="middle" transform="translate(1646.8 2086.8) scale(1 1.025)">0</text>
<text class="t" text-anchor="middle" transform="translate(2057.3 2086.8) scale(1 1.025)">50</text>
<text class="t" text-anchor="middle" transform="translate(2467.8 2086.8) scale(1 1.025)">100</text>
<text class="a" text-anchor="middle" x="2046.6" y="2214.5">% area lost</text>
<text class="a" style="font-size:72.4px" text-anchor="middle" transform="translate(1410 1609.2) rotate(-90)">% species lost</text>
<text class="p" transform="translate(1660.3 1367.5) scale(1 0.962)">(d)</text>
<clipPath id="cld"><rect x="1645.1" y="1269.5" width="840" height="740"/></clipPath>
<g clip-path="url(#cld)">
<path d="M1646.3 1992.5 L1649.6 1992.1 L1652.9 1991.6 L1656.1 1991.2 L1659.4 1990.7 L1662.7 1990.3 L1666 1989.9 L1669.3 1989.4 L1672.5 1989 L1675.8 1988.5 L1679.1 1988.1 L1682.4 1987.6 L1685.7 1987.2 L1688.9 1986.7 L1692.2 1986.2 L1695.5 1985.8 L1698.8 1985.3 L1702.1 1984.9 L1705.3 1984.4 L1708.6 1983.9 L1711.9 1983.5 L1715.2 1983 L1718.5 1982.5 L1721.7 1982.1 L1725 1981.6 L1728.3 1981.1 L1731.6 1980.6 L1734.9 1980.1 L1738.1 1979.7 L1741.4 1979.2 L1744.7 1978.7 L1748 1978.2 L1751.3 1977.7 L1754.5 1977.2 L1757.8 1976.7 L1761.1 1976.2 L1764.4 1975.7 L1767.7 1975.2 L1770.9 1974.7 L1774.2 1974.2 L1777.5 1973.7 L1780.8 1973.2 L1784.1 1972.7 L1787.3 1972.2 L1790.6 1971.7 L1793.9 1971.2 L1797.2 1970.7 L1800.5 1970.1 L1803.7 1969.6 L1807 1969.1 L1810.3 1968.6 L1813.6 1968 L1816.9 1967.5 L1820.1 1967 L1823.4 1966.5 L1826.7 1965.9 L1830 1965.4 L1833.3 1964.8 L1836.5 1964.3 L1839.8 1963.7 L1843.1 1963.2 L1846.4 1962.6 L1849.7 1962.1 L1852.9 1961.5 L1856.2 1961 L1859.5 1960.4 L1862.8 1959.8 L1866.1 1959.3 L1869.3 1958.7 L1872.6 1958.1 L1875.9 1957.6 L1879.2 1957 L1882.5 1956.4 L1885.7 1955.8 L1889 1955.2 L1892.3 1954.6 L1895.6 1954.1 L1898.9 1953.5 L1902.1 1952.9 L1905.4 1952.3 L1908.7 1951.7 L1912 1951 L1915.3 1950.4 L1918.5 1949.8 L1921.8 1949.2 L1925.1 1948.6 L1928.4 1948 L1931.7 1947.3 L1934.9 1946.7 L1938.2 1946.1 L1941.5 1945.4 L1944.8 1944.8 L1948.1 1944.2 L1951.3 1943.5 L1954.6 1942.9 L1957.9 1942.2 L1961.2 1941.6 L1964.5 1940.9 L1967.7 1940.2 L1971 1939.6 L1974.3 1938.9 L1977.6 1938.2 L1980.9 1937.5 L1984.1 1936.9 L1987.4 1936.2 L1990.7 1935.5 L1994 1934.8 L1997.3 1934.1 L2000.5 1933.4 L2003.8 1932.7 L2007.1 1932 L2010.4 1931.3 L2013.7 1930.5 L2016.9 1929.8 L2020.2 1929.1 L2023.5 1928.4 L2026.8 1927.6 L2030.1 1926.9 L2033.3 1926.1 L2036.6 1925.4 L2039.9 1924.6 L2043.2 1923.9 L2046.5 1923.1 L2049.7 1922.3 L2053 1921.5 L2056.3 1920.8 L2059.6 1920 L2062.9 1919.2 L2066.1 1918.4 L2069.4 1917.6 L2072.7 1916.8 L2076 1915.9 L2079.3 1915.1 L2082.5 1914.3 L2085.8 1913.5 L2089.1 1912.6 L2092.4 1911.8 L2095.7 1910.9 L2098.9 1910.1 L2102.2 1909.2 L2105.5 1908.3 L2108.8 1907.4 L2112.1 1906.6 L2115.3 1905.7 L2118.6 1904.8 L2121.9 1903.9 L2125.2 1902.9 L2128.5 1902 L2131.7 1901.1 L2135 1900.2 L2138.3 1899.2 L2141.6 1898.3 L2144.9 1897.3 L2148.1 1896.3 L2151.4 1895.3 L2154.7 1894.4 L2158 1893.4 L2161.3 1892.4 L2164.5 1891.3 L2167.8 1890.3 L2171.1 1889.3 L2174.4 1888.2 L2177.7 1887.2 L2180.9 1886.1 L2184.2 1885.1 L2187.5 1884 L2190.8 1882.9 L2194.1 1881.8 L2197.3 1880.6 L2200.6 1879.5 L2203.9 1878.4 L2207.2 1877.2 L2210.5 1876.1 L2213.7 1874.9 L2217 1873.7 L2220.3 1872.5 L2223.6 1871.3 L2226.9 1870 L2230.1 1868.8 L2233.4 1867.5 L2236.7 1866.2 L2240 1864.9 L2243.3 1863.6 L2246.5 1862.3 L2249.8 1861 L2253.1 1859.6 L2256.4 1858.2 L2259.7 1856.8 L2262.9 1855.4 L2266.2 1854 L2269.5 1852.5 L2272.8 1851.1 L2276.1 1849.6 L2279.3 1848 L2282.6 1846.5 L2285.9 1844.9 L2289.2 1843.3 L2292.5 1841.7 L2295.7 1840.1 L2299 1838.4 L2302.3 1836.7 L2305.6 1835 L2308.9 1833.3 L2312.1 1831.5 L2315.4 1829.6 L2318.7 1827.8 L2322 1825.9 L2325.3 1824 L2328.5 1822 L2331.8 1820 L2335.1 1818 L2338.4 1815.9 L2341.7 1813.7 L2344.9 1811.6 L2348.2 1809.3 L2351.5 1807 L2354.8 1804.7 L2358.1 1802.3 L2361.3 1799.8 L2364.6 1797.3 L2367.9 1794.7 L2371.2 1792 L2374.5 1789.3 L2377.7 1786.4 L2381 1783.5 L2384.3 1780.5 L2387.6 1777.3 L2390.9 1774.1 L2394.1 1770.7 L2397.4 1767.2 L2400.7 1763.6 L2404 1759.8 L2407.3 1755.8 L2410.5 1751.6 L2413.8 1747.2 L2417.1 1742.6 L2420.4 1737.7 L2423.7 1732.5 L2426.9 1727 L2430.2 1721 L2433.5 1714.6 L2436.8 1707.6 L2440.1 1699.9 L2443.3 1691.3 L2446.6 1681.6 L2449.9 1670.4 L2453.2 1657.2 L2456.5 1640.7 Q2459.5 1632.9 2460.2 1594.7 L2466.3 1270.5" fill="none" stroke="#FF0000" stroke-width="10.4" stroke-linejoin="round"/>
</g>
</g>
<g transform="translate(350 310) scale(0.22994)">
<clipPath id="gr"><rect x="0" y="0" width="2100" height="750"/></clipPath>
<g clip-path="url(#gr)"><rect x="60" y="712" width="1902" height="38" fill="#000"/><ellipse cx="332" cy="642" rx="197" ry="92" fill="#000"/><ellipse cx="627" cy="690" rx="100" ry="58" fill="#000"/></g>
</g>
<g transform="translate(530 320) scale(0.13699)">
<path d="M60 1130 C-94.9 1114 124.7 1034 150 1010 C175.3 986 214 967.3 250 950 C286 932.7 378.7 893.3 420 880 C461.3 866.7 522.7 866 560 850 C597.3 834 654.7 778.4 700 760 C745.3 741.6 860 726.4 900 712 C940 697.6 974.4 668.9 1000 652 C1025.6 635.1 1065.3 591.9 1092 585 C1118.7 578.1 1172.3 590 1200 600 C1227.7 610 1266.7 654.7 1300 660 C1333.3 665.3 1414 642.7 1450 640 C1486 637.3 1560.7 626.7 1570 640 C1579.3 653.3 1540 713.3 1520 740 C1500 766.7 1439.3 816.7 1420 840 C1400.7 863.3 1375 899.7 1375 915 C1375 930.3 1418.7 942.3 1420 955 C1421.3 967.7 1395.7 994 1385 1010 C1374.3 1026 1349.7 1059 1340 1075 C1330.3 1091 1482.7 1122.7 1312 1130 C1141.3 1137.3 214.9 1146 60 1130Z" fill="#000"/>
<path d="M0 1130 C-11.7 1111.7 -2 1063.3 18 1020 C38 976.7 69.3 920.7 120 870 C170.7 819.3 307.8 721 322 716 C336.2 711 240 792.7 205 840 C170 887.3 131.5 951.7 112 1000 C92.5 1048.3 106.7 1108.3 88 1130 C69.3 1151.7 11.7 1148.3 0 1130Z" fill="#000"/>
<path d="M95 1130 C86.7 1105 118.8 1025.3 140 980 C161.2 934.7 190.3 892.2 222 858 C253.7 823.8 297 793.3 330 775 C363 756.7 389.7 747.8 420 748 C450.3 748.2 512 768.7 512 776 C512 783.3 450.3 782.7 420 792 C389.7 801.3 358.3 812 330 832 C301.7 852 273.3 862.3 250 912 C226.7 961.7 215.8 1093.7 190 1130 C164.2 1166.3 103.3 1155 95 1130Z" fill="#000"/>
<path d="M420 900 C423.3 866.7 490 756.7 520 700 C550 643.3 571.3 603.7 600 560 C628.7 516.3 688.3 434.3 692 438 C695.7 441.7 643.7 535 622 582 C600.3 629 582.3 667 562 720 C541.7 773 523.7 870 500 900 C476.3 930 416.7 933.3 420 900Z" fill="#000"/>
<path d="M560 900 C563.3 866.7 640 761.7 680 700 C720 638.3 759.7 582.8 800 530 C840.3 477.2 916.7 381 922 383 C927.3 385 862 489.2 832 542 C802 594.8 770.7 640.3 742 700 C713.3 759.7 690.3 866.7 660 900 C629.7 933.3 556.7 933.3 560 900Z" fill="#000"/>
<path d="M640 820 C643.3 793.3 740 681.7 800 620 C860 558.3 930.3 497.8 1000 450 C1069.7 402.2 1207.7 327.7 1218 333 C1228.3 338.3 1114.7 433.8 1062 482 C1009.3 530.2 949 572.3 902 622 C855 671.7 823.7 747 780 780 C736.3 813 636.7 846.7 640 820Z" fill="#000"/>
<path d="M780 720 C793.3 686.7 906.7 555.8 960 520 C1013.3 484.2 1061.3 500.3 1100 505 C1138.7 509.7 1193.7 541.3 1192 548 C1190.3 554.7 1122 538.8 1090 545 C1058 551.2 1035 555.8 1000 585 C965 614.2 916.7 697.5 880 720 C843.3 742.5 766.7 753.3 780 720Z" fill="#000"/>
<path d="M1080 740 C1080.5 703.3 1148.3 586.7 1178 520 C1207.7 453.3 1230.7 393.7 1258 340 C1285.3 286.3 1336.3 194.3 1342 198 C1347.7 201.7 1311.7 304.7 1292 362 C1272.3 419.3 1243.5 479 1224 542 C1204.5 605 1199 707 1175 740 C1151 773 1079.5 776.7 1080 740Z" fill="#000"/>
<path d="M1195 720 C1200.5 680 1285.8 550 1328 480 C1370.2 410 1405.7 357.8 1448 300 C1490.3 242.2 1574.7 129.3 1582 133 C1589.3 136.7 1523.7 260.5 1492 322 C1460.3 383.5 1424.8 435.7 1392 502 C1359.2 568.3 1327.8 683.7 1295 720 C1262.2 756.3 1189.5 760 1195 720Z" fill="#000"/>
<path d="M1300 470 L1362 482 L1330 505Z" fill="#000"/>
<path d="M1295 720 C1309.7 678.3 1430.8 513.3 1498 430 C1565.2 346.7 1634.7 278.7 1698 220 C1761.3 161.3 1870.7 72.7 1878 78 C1885.3 83.3 1794.7 186.3 1742 252 C1689.3 317.7 1617.3 400.7 1562 472 C1506.7 543.3 1454.5 638.7 1410 680 C1365.5 721.3 1280.3 761.7 1295 720Z" fill="#000"/>
<path d="M1350 650 C1360 616.3 1470 553.3 1520 518 C1570 482.7 1608 462.2 1650 438 C1692 413.8 1766.7 367.3 1772 373 C1777.3 378.7 1713.7 440.5 1682 472 C1650.3 503.5 1619 520.7 1582 562 C1545 603.3 1498.7 705.3 1460 720 C1421.3 734.7 1340 683.7 1350 650Z" fill="#000"/>
<path d="M1470 650 C1495 616.3 1595 565 1650 538 C1705 511 1752 500.5 1800 488 C1848 475.5 1938 455.7 1938 463 C1938 470.3 1848 510.5 1800 532 C1752 553.5 1700 557.3 1650 592 C1600 626.7 1530 730.3 1500 740 C1470 749.7 1445 683.7 1470 650Z" fill="#000"/>
<path d="M1540 650 C1558.3 628 1643 602.5 1700 588 C1757 573.5 1873.3 557.3 1882 563 C1890.7 568.7 1800.7 595.8 1752 622 C1703.3 648.2 1625.3 715.3 1590 720 C1554.7 724.7 1521.7 672 1540 650Z" fill="#000"/>
<path d="M1480 740 C1500 719.7 1591.3 700.8 1650 688 C1708.7 675.2 1823.3 657.3 1832 663 C1840.7 668.7 1752.3 697.5 1702 722 C1651.7 746.5 1567 807 1530 810 C1493 813 1460 760.3 1480 740Z" fill="#000"/>
<path d="M1560 740 C1573.3 731.3 1627.5 722.7 1660 718 C1692.5 713.3 1751.7 708.7 1755 712 C1758.3 715.3 1709.2 728.3 1680 738 C1650.8 747.7 1600 769.7 1580 770 C1560 770.3 1546.7 748.7 1560 740Z" fill="#000"/>
<path d="M1365 915 C1401.7 901.3 1507.8 888.2 1600 883 C1692.2 877.8 1901.3 880.2 1918 884 C1934.7 887.8 1761.3 898 1700 906 C1638.7 914 1603.3 922.2 1550 932 C1496.7 941.8 1410.8 967.8 1380 965 C1349.2 962.2 1328.3 928.7 1365 915Z" fill="#000"/>
<path d="M1470 935 C1495 928.8 1558 934.5 1600 948 C1642 961.5 1722 1009.3 1722 1016 C1722 1022.7 1645.3 993.2 1600 988 C1554.7 982.8 1471.7 993.8 1450 985 C1428.3 976.2 1445 941.2 1470 935Z" fill="#000"/>
<path d="M1310 1125 C1301.7 1117.5 1371.7 1096.2 1400 1090 C1428.3 1083.8 1451.7 1082.7 1480 1088 C1508.3 1093.3 1575 1114.2 1570 1122 C1565 1129.8 1493.3 1134.5 1450 1135 C1406.7 1135.5 1318.3 1132.5 1310 1125Z" fill="#000"/>
<path d="M228 965 C234.7 953.4 277.1 891.7 300 870 C322.9 848.3 377.3 812.4 400 802 C422.7 791.6 464.7 788.3 470 792 C475.3 795.7 446.9 819.6 440 830 C433.1 840.4 432.7 859.1 418 870 C403.3 880.9 352.4 900.4 330 912 C307.6 923.6 263.6 949.9 250 957 C236.4 964.1 221.3 976.6 228 965Z" fill="#fff"/>
<path d="M86 1118 C87.3 1104.7 94.8 1044.7 110 1010 C125.2 975.3 196.7 859.3 200 858 C203.3 856.7 148.3 966.4 135 1000 C121.7 1033.6 106.5 1094.3 100 1110 C93.5 1125.7 84.7 1131.3 86 1118Z" fill="#fff"/>
<path d="M312 1076 L372 988 L372 1076Z" fill="#fff"/>
<path d="M430 1040 C426.3 1026.4 438.7 945.1 452 920 C465.3 894.9 523.6 846.7 530 852 C536.4 857.3 506.7 937.3 500 960 C493.3 982.7 489.3 1011.3 480 1022 C470.7 1032.7 433.7 1053.6 430 1040Z" fill="#fff"/>
<path d="M570 955 C574 933.9 625.1 816.9 640 792 C654.9 767.1 682 756.3 682 768 C682 779.7 649.6 855.7 640 880 C630.4 904.3 619.3 940 610 950 C600.7 960 566 976.1 570 955Z" fill="#fff"/>
<path d="M735 860 C736.7 848.3 762.4 783.2 770 772 C777.6 760.8 793.7 764.3 792 776 C790.3 787.7 764.6 848.8 757 860 C749.4 871.2 733.3 871.7 735 860Z" fill="#fff"/>
<path d="M892 706 C903.3 691.9 964.7 626.8 990 606 C1015.3 585.2 1068.9 553.7 1082 550 C1095.1 546.3 1098.9 565.7 1088 578 C1077.1 590.3 1024.4 624.1 1000 642 C975.6 659.9 919.4 703.5 905 712 C890.6 720.5 880.7 720.1 892 706Z" fill="#fff"/>
<path d="M1092 742 C1088.5 731.7 1108.9 683.3 1122 665 C1135.1 646.7 1183.9 603 1190 605 C1196.1 607 1173.6 661.7 1168 680 C1162.4 698.3 1158.1 733.7 1148 742 C1137.9 750.3 1095.5 752.3 1092 742Z" fill="#fff"/>
<path d="M1230 702 C1232 690 1260.4 626.9 1270 612 C1279.6 597.1 1301.3 583.6 1302 590 C1302.7 596.4 1281.3 645.1 1275 660 C1268.7 674.9 1261 696.4 1255 702 C1249 707.6 1228 714 1230 702Z" fill="#fff"/>
<path d="M1135 585 C1135 580.3 1159.3 549 1170 545 C1180.7 541 1215 550.3 1215 555 C1215 559.7 1180.7 576 1170 580 C1159.3 584 1135 589.7 1135 585Z" fill="#fff"/>
<circle cx="1022" cy="765" r="12" fill="#fff"/>
<circle cx="1216" cy="797" r="15" fill="#fff"/>
<path d="M1460 720 C1462.7 716 1508 688.4 1520 682 C1532 675.6 1552.7 668 1550 672 C1547.3 676 1512 705.6 1500 712 C1488 718.4 1457.3 724 1460 720Z" fill="#fff"/>
</g>
<g transform="translate(820 190) scale(0.17126)">
<path d="M590 275 C613.3 276.2 655.8 277.5 680 285 C704.2 292.5 716.7 307.5 735 320 C753.3 332.5 772.5 343.3 790 360 C807.5 376.7 826.7 400 840 420 C853.3 440 863.3 460 870 480 C876.7 500 881.3 520 880 540 C878.7 560 866.2 580 862 600 C857.8 620 852.8 636.7 855 660 C857.2 683.3 869.5 718.3 875 740 C880.5 761.7 883.8 775 888 790 C892.2 805 897.7 811.7 900 830 C902.3 848.3 901 871.7 902 900 C903 928.3 904.3 966.7 906 1000 C907.7 1033.3 910.5 1066.7 912 1100 C913.5 1133.3 917 1166.7 915 1200 C913 1233.3 909.2 1268.3 900 1300 C890.8 1331.7 876.7 1363.3 860 1390 C843.3 1416.7 820 1440.8 800 1460 C780 1479.2 763.3 1493.3 740 1505 C716.7 1516.7 685 1526.7 660 1530 C635 1533.3 613.3 1524.2 590 1525 C566.7 1525.8 543.3 1539.2 520 1535 C496.7 1530.8 473.3 1515.8 450 1500 C426.7 1484.2 401.7 1463.3 380 1440 C358.3 1416.7 337.5 1388.3 320 1360 C302.5 1331.7 286.7 1300 275 1270 C263.3 1240 255 1211.7 250 1180 C245 1148.3 244.2 1113.3 245 1080 C245.8 1046.7 252.5 1013.3 255 980 C257.5 946.7 257.5 911.7 260 880 C262.5 848.3 265 816.7 270 790 C275 763.3 285.8 743.3 290 720 C294.2 696.7 295.8 673.3 295 650 C294.2 626.7 285.8 601.7 285 580 C284.2 558.3 285.8 541.7 290 520 C294.2 498.3 300 471.7 310 450 C320 428.3 335 406.7 350 390 C365 373.3 385 359.2 400 350 C415 340.8 426.7 344.2 440 335 C453.3 325.8 463.3 304.5 480 295 C496.7 285.5 521.7 281.3 540 278 C558.3 274.7 566.7 273.8 590 275Z" fill="#000"/>
<path d="M432 338 L270 125" fill="none" stroke="#000" stroke-width="13" stroke-linecap="round" stroke-linejoin="round"/>
<path d="M300 168 L266 118" fill="none" stroke="#000" stroke-width="26" stroke-linecap="round" stroke-linejoin="round"/>
<path d="M733 312 L866 112" fill="none" stroke="#000" stroke-width="13" stroke-linecap="round" stroke-linejoin="round"/>
<path d="M842 150 L872 106" fill="none" stroke="#000" stroke-width="26" stroke-linecap="round" stroke-linejoin="round"/>
<path d="M305 505 C297.8 498.8 271.8 485.5 262 468 C252.2 450.5 248.8 427.2 246 400 C243.2 372.8 245.2 320.8 245 305" fill="none" stroke="#000" stroke-width="44" stroke-linecap="butt" stroke-linejoin="round"/>
<path d="M223 292 L300 283 L288 305 L268 325 L223 325Z" fill="#000"/>
<path d="M262 292 C254.2 284.2 230.7 262.3 215 245 C199.3 227.7 175.8 197.5 168 188" fill="none" stroke="#000" stroke-width="24" stroke-linecap="round" stroke-linejoin="round"/>
<path d="M136 182 L160 146 L192 198 L165 205Z" fill="#000"/>
<path d="M858 505 C863.8 498.8 886.7 485.5 893 468 C899.3 450.5 897.5 427.2 896 400 C894.5 372.8 886 320.8 884 305" fill="none" stroke="#000" stroke-width="44" stroke-linecap="butt" stroke-linejoin="round"/>
<path d="M798 286 L886 292 L906 325 L862 325 L835 310Z" fill="#000"/>
<path d="M850 292 C853.7 282 860.7 249.3 872 232 C883.3 214.7 903 199.5 918 188 C933 176.5 954.7 167.2 962 163" fill="none" stroke="#000" stroke-width="24" stroke-linecap="round" stroke-linejoin="round"/>
<path d="M950 150 L992 182 L960 182 L940 175Z" fill="#000"/>
<path d="M280 800 C270 805.3 232 815.3 220 832 C208 848.7 210 888.7 208 900" fill="none" stroke="#000" stroke-width="48" stroke-linecap="round" stroke-linejoin="round"/>
<path d="M208 900 C209.3 913.3 212.3 953 216 980 C219.7 1007 227.7 1048.3 230 1062" fill="none" stroke="#000" stroke-width="38" stroke-linecap="round" stroke-linejoin="round"/>
<path d="M230 1062 C221.7 1071.7 193 1099.5 180 1120 C167 1140.5 157.3 1165.7 152 1185 C146.7 1204.3 148.7 1227.5 148 1236" fill="none" stroke="#000" stroke-width="20" stroke-linecap="round" stroke-linejoin="round"/>
<path d="M880 800 C890 805.3 928 815.3 940 832 C952 848.7 950 888.7 952 900" fill="none" stroke="#000" stroke-width="48" stroke-linecap="round" stroke-linejoin="round"/>
<path d="M952 900 C950.7 913.3 947.3 953 944 980 C940.7 1007 934 1048.3 932 1062" fill="none" stroke="#000" stroke-width="38" stroke-linecap="round" stroke-linejoin="round"/>
<path d="M932 1062 C940.3 1071.3 969 1098.3 982 1118 C995 1137.7 1006.7 1160.3 1010 1180 C1013.3 1199.7 1003.3 1226.7 1002 1236" fill="none" stroke="#000" stroke-width="20" stroke-linecap="round" stroke-linejoin="round"/>
<path d="M228 878 L258 878 L242 962Z" fill="#fff"/>
<path d="M898 872 L930 872 L916 952Z" fill="#fff"/>
<path d="M262 1165 C257.3 1171.7 235.2 1183.3 234 1205 C232.8 1226.7 241 1253.3 255 1295 C269 1336.7 307.5 1428.3 318 1455" fill="none" stroke="#000" stroke-width="44" stroke-linecap="round" stroke-linejoin="round"/>
<path d="M318 1462 C307 1475 270.8 1513.7 252 1540 C233.2 1566.3 216 1595 205 1620 C194 1645 189.2 1678.3 186 1690" fill="none" stroke="#000" stroke-width="21" stroke-linecap="round" stroke-linejoin="round"/>
<path d="M902 1185 C906.3 1189.5 927 1192.8 928 1212 C929 1231.2 921.7 1260.7 908 1300 C894.3 1339.3 856.3 1423.3 846 1448" fill="none" stroke="#000" stroke-width="44" stroke-linecap="round" stroke-linejoin="round"/>
<path d="M850 1460 C858.3 1473.3 883.7 1514.7 900 1540 C916.3 1565.3 935 1587.3 948 1612 C961 1636.7 973 1675.3 978 1688" fill="none" stroke="#000" stroke-width="21" stroke-linecap="round" stroke-linejoin="round"/>
<path d="M245 1212 L263 1218 L282 1300Z" fill="#fff"/>
<path d="M898 1218 L915 1215 L882 1292Z" fill="#fff"/>
</g>
<g transform="translate(1680 250) scale(0.14917)">
<path d="M900 115 L960 130 L1020 150 L1040 165 L1085 130 L1150 155 L1220 145 L1260 185 L1255 225 L1290 260 L1280 295 L1345 295 L1380 325 L1355 360 L1370 405 L1420 410 L1430 390 L1450 415 L1570 400 L1545 455 L1580 505 L1540 530 L1510 580 L1560 590 L1640 640 L1650 690 L1620 730 L1680 740 L1700 790 L1770 790 L1750 850 L1805 885 L1770 915 L1750 965 L1725 990 L1730 1040 L1780 1055 L1745 1120 L1770 1170 L1720 1185 L1700 1225 L1665 1240 L1690 1320 L1640 1335 L1610 1365 L1540 1350 L1500 1330 L1430 1330 L1380 1300 L1330 1295 L1300 1240 L1200 1270 L1120 1290 L1060 1310 L1040 1370 L1030 1470 L1030 1580 L1045 1660 L1065 1715 L900 1715 L930 1650 L945 1570 L945 1450 L940 1360 L915 1285 L850 1285 L820 1320 L830 1360 L800 1380 L780 1415 L720 1415 L690 1380 L660 1410 L600 1395 L540 1405 L510 1375 L485 1335 L440 1385 L380 1360 L340 1335 L300 1350 L270 1310 L245 1265 L270 1230 L260 1190 L290 1120 L240 1105 L180 1115 L160 1050 L145 990 L225 955 L240 860 L300 840 L310 800 L335 770 L320 690 L365 680 L385 630 L335 600 L360 560 L380 460 L450 430 L480 440 L520 390 L560 355 L580 340 L640 330 L635 295 L680 255 L720 230 L770 170 L800 140 L850 125Z" fill="#000"/>
</g>
<g transform="translate(1970 130) scale(0.22099)">
<path d="M510 342 C514.1 332.1 517.1 300.5 520 295 C522.9 289.5 532.4 290.3 535 295 C537.6 299.7 535 330.3 542 335 C549 339.7 588.2 340 595 335 C601.8 330 597.7 297 600 292 C602.3 287 612.4 285.8 615 292 C617.6 298.2 617.9 334.7 622 345 C626.1 355.3 645 370.1 650 380 C655 389.9 663.8 420.7 665 430 C666.2 439.3 655.9 455.3 660 460 C664.1 464.7 691.2 464.2 700 470 C708.8 475.8 729.2 499.5 735 510 C740.8 520.5 748.2 544.8 750 560 C751.8 575.2 752.3 623.7 750 640 C747.7 656.3 731.8 688.3 730 700 C728.2 711.7 730.9 729.5 735 740 C739.1 750.5 760.3 776 765 790 C769.7 804 773.2 841.3 775 860 C776.8 878.7 778.8 927.8 780 950 C781.2 972.2 785 1026.7 785 1050 C785 1073.3 782.3 1129 780 1150 C777.7 1171 770.2 1212.5 765 1230 C759.8 1247.5 743.8 1284.8 735 1300 C726.2 1315.2 701.1 1348.3 690 1360 C678.9 1371.7 650.5 1393 640 1400 C629.5 1407 610.5 1417.1 600 1420 C589.5 1422.9 560.5 1426.8 550 1425 C539.5 1423.2 520.5 1412.6 510 1405 C499.5 1397.4 471.7 1373.4 460 1360 C448.3 1346.6 419.3 1307.5 410 1290 C400.7 1272.5 385.6 1229.8 380 1210 C374.4 1190.2 364.3 1144.5 362 1120 C359.7 1095.5 359.6 1025.7 360 1000 C360.4 974.3 363.2 921 365 900 C366.8 879 372.1 836.3 375 820 C377.9 803.7 385.3 770.5 390 760 C394.7 749.5 412.7 739.3 415 730 C417.3 720.7 412.3 695.2 410 680 C407.7 664.8 396.2 616.3 395 600 C393.8 583.7 395.9 554 400 540 C404.1 526 421.8 489.3 430 480 C438.2 470.7 464.2 465.8 470 460 C475.8 454.2 478.2 439.3 480 430 C481.8 420.7 481.5 390.3 485 380 C488.5 369.7 505.9 351.9 510 342Z" fill="#000"/>
<path d="M492 382 L182 92" fill="none" stroke="#000" stroke-width="16" stroke-linecap="round" stroke-linejoin="round"/>
<path d="M658 392 C685 370.3 776.3 299.8 820 262 C863.7 224.2 894.2 194 920 165 C945.8 136 965.8 100.8 975 88" fill="none" stroke="#000" stroke-width="16" stroke-linecap="round" stroke-linejoin="round"/>
<path d="M410 575 L325 548" fill="none" stroke="#000" stroke-width="52" stroke-linecap="round" stroke-linejoin="round"/>
<path d="M305 545 C302.8 529.2 294.2 479.5 292 450 C289.8 420.5 292 381.7 292 368" fill="none" stroke="#000" stroke-width="29" stroke-linecap="round" stroke-linejoin="round"/>
<path d="M292 366 L182 242" fill="none" stroke="#000" stroke-width="17" stroke-linecap="round" stroke-linejoin="round"/>
<path d="M172 236 L200 250" fill="none" stroke="#000" stroke-width="17" stroke-linecap="round" stroke-linejoin="round"/>
<path d="M745 568 L848 535" fill="none" stroke="#000" stroke-width="52" stroke-linecap="round" stroke-linejoin="round"/>
<path d="M858 530 C859.3 513.3 864.7 464.7 866 430 C867.3 395.3 866 340 866 322" fill="none" stroke="#000" stroke-width="29" stroke-linecap="round" stroke-linejoin="round"/>
<path d="M866 318 C875 305 903.5 261 920 240 C936.5 219 957.5 200 965 192" fill="none" stroke="#000" stroke-width="17" stroke-linecap="round" stroke-linejoin="round"/>
<path d="M952 188 L982 200" fill="none" stroke="#000" stroke-width="17" stroke-linecap="round" stroke-linejoin="round"/>
<path d="M385 828 L292 820" fill="none" stroke="#000" stroke-width="52" stroke-linecap="round" stroke-linejoin="round"/>
<path d="M278 826 C274.7 846.7 261.7 910.7 258 950 C254.3 989.3 256.3 1043.3 256 1062" fill="none" stroke="#000" stroke-width="29" stroke-linecap="round" stroke-linejoin="round"/>
<path d="M256 1066 C245 1078.3 209 1116 190 1140 C171 1164 150 1198.3 142 1210" fill="none" stroke="#000" stroke-width="17" stroke-linecap="round" stroke-linejoin="round"/>
<path d="M134 1210 L160 1220" fill="none" stroke="#000" stroke-width="13" stroke-linecap="round" stroke-linejoin="round"/>
<path d="M765 835 L878 820" fill="none" stroke="#000" stroke-width="52" stroke-linecap="round" stroke-linejoin="round"/>
<path d="M892 828 C895.3 848.3 909 910.3 912 950 C915 989.7 910.3 1046.7 910 1066" fill="none" stroke="#000" stroke-width="29" stroke-linecap="round" stroke-linejoin="round"/>
<path d="M906 1070 C917.5 1083.3 956 1123.7 975 1150 C994 1176.3 1012.5 1215 1020 1228" fill="none" stroke="#000" stroke-width="17" stroke-linecap="round" stroke-linejoin="round"/>
<path d="M995 1238 L1024 1228" fill="none" stroke="#000" stroke-width="13" stroke-linecap="round" stroke-linejoin="round"/>
<path d="M372 1120 L318 1225" fill="none" stroke="#000" stroke-width="54" stroke-linecap="round" stroke-linejoin="round"/>
<path d="M302 1238 C300.3 1265 291.3 1349.7 292 1400 C292.7 1450.3 303.7 1516.7 306 1540" fill="none" stroke="#000" stroke-width="29" stroke-linecap="round" stroke-linejoin="round"/>
<path d="M306 1542 C291.7 1556.7 247.3 1601.7 220 1630 C192.7 1658.3 155 1698.3 142 1712" fill="none" stroke="#000" stroke-width="17" stroke-linecap="round" stroke-linejoin="round"/>
<path d="M135 1706 L160 1728" fill="none" stroke="#000" stroke-width="13" stroke-linecap="round" stroke-linejoin="round"/>
<path d="M778 1120 L832 1235" fill="none" stroke="#000" stroke-width="54" stroke-linecap="round" stroke-linejoin="round"/>
<path d="M842 1245 C841.7 1270.8 842.7 1350.5 840 1400 C837.3 1449.5 828.3 1518.3 826 1542" fill="none" stroke="#000" stroke-width="29" stroke-linecap="round" stroke-linejoin="round"/>
<path d="M826 1546 C836.7 1563.3 869.3 1617.3 890 1650 C910.7 1682.7 940 1726.7 950 1742" fill="none" stroke="#000" stroke-width="17" stroke-linecap="round" stroke-linejoin="round"/>
<path d="M930 1748 L962 1738" fill="none" stroke="#000" stroke-width="13" stroke-linecap="round" stroke-linejoin="round"/>
</g>
<g transform="translate(380 1460) scale(0.17127)">
<ellipse cx="924" cy="915" rx="842" ry="820" fill="#fff" stroke="#000" stroke-width="9"/>
<clipPath id="gc"><ellipse cx="924" cy="915" rx="842" ry="820"/></clipPath>
<g clip-path="url(#gc)"><path d="M600 560 C617.3 552.7 673.3 547.7 700 545 C726.7 542.3 782.7 535.3 800 540 C817.3 544.7 819.3 572 830 580 C840.7 588 868 594 880 600 C892 606 910.7 625.7 920 625 C929.3 624.3 938 597.7 950 595 C962 592.3 992.7 602.3 1010 605 C1027.3 607.7 1066.7 610.3 1080 615 C1093.3 619.7 1102 628.7 1110 640 C1118 651.3 1130.7 682.7 1140 700 C1149.3 717.3 1168 750 1180 770 C1192 790 1218 832.7 1230 850 C1242 867.3 1260.7 890 1270 900 C1279.3 910 1288 924.3 1300 925 C1312 925.7 1351.3 903 1360 905 C1368.7 907 1367.7 927.3 1365 940 C1362.3 952.7 1348.7 984 1340 1000 C1331.3 1016 1310.7 1045.3 1300 1060 C1289.3 1074.7 1270 1098 1260 1110 C1250 1122 1231 1138 1225 1150 C1219 1162 1215.7 1185.3 1215 1200 C1214.3 1214.7 1220.7 1244 1220 1260 C1219.3 1276 1216.7 1306.7 1210 1320 C1203.3 1333.3 1180.7 1349.3 1170 1360 C1159.3 1370.7 1138 1388 1130 1400 C1122 1412 1118 1436.7 1110 1450 C1102 1463.3 1082 1488 1070 1500 C1058 1512 1034.7 1532.7 1020 1540 C1005.3 1547.3 973.3 1553.7 960 1555 C946.7 1556.3 928 1558.7 920 1550 C912 1541.3 906.7 1506 900 1490 C893.3 1474 877.3 1443.3 870 1430 C862.7 1416.7 849 1403.3 845 1390 C841 1376.7 839.3 1346 840 1330 C840.7 1314 851.3 1287.3 850 1270 C848.7 1252.7 836.7 1216 830 1200 C823.3 1184 806.7 1162 800 1150 C793.3 1138 782.7 1123.3 780 1110 C777.3 1096.7 782.7 1059.3 780 1050 C777.3 1040.7 768 1042 760 1040 C752 1038 729.3 1039 720 1035 C710.7 1031 700.7 1012.7 690 1010 C679.3 1007.3 654.7 1012.3 640 1015 C625.3 1017.7 596 1028.7 580 1030 C564 1031.3 533.3 1031 520 1025 C506.7 1019 489.3 997.7 480 985 C470.7 972.3 458 945.3 450 930 C442 914.7 421.3 887.3 420 870 C418.7 852.7 436.7 817.3 440 800 C443.3 782.7 439.7 756 445 740 C450.3 724 468.7 693.3 480 680 C491.3 666.7 518 650.7 530 640 C542 629.3 560.7 610.7 570 600 C579.3 589.3 582.7 567.3 600 560Z" fill="#000"/>
<path d="M1180 130 C1209.2 124.2 1351 130.2 1400 150 C1449 169.8 1558 252.2 1600 300 C1642 347.8 1736.7 506.3 1760 560 C1783.3 613.7 1807 744.8 1800 760 C1793 775.2 1714 697 1700 690 C1686 683 1684.1 689.5 1680 700 C1675.9 710.5 1668.5 761.3 1665 780 C1661.5 798.7 1652.9 843.7 1650 860 C1647.1 876.3 1644.7 922.3 1640 920 C1635.3 917.7 1617 858.7 1610 840 C1603 821.3 1588.2 776.3 1580 760 C1571.8 743.7 1551.7 710.5 1540 700 C1528.3 689.5 1492.8 672.3 1480 670 C1467.2 667.7 1439.3 676.5 1430 680 C1420.7 683.5 1398.8 692.4 1400 700 C1401.2 707.6 1437.7 734.5 1440 745 C1442.3 755.5 1428.2 778.9 1420 790 C1411.8 801.1 1381.7 829.5 1370 840 C1358.3 850.5 1330.3 874.2 1320 880 C1309.7 885.8 1290.2 894.7 1282 890 C1273.8 885.3 1259.6 855.2 1250 840 C1240.4 824.8 1211.7 778.7 1200 760 C1188.3 741.3 1159.3 694 1150 680 C1140.7 666 1122.3 650.5 1120 640 C1117.7 629.5 1130 600.7 1130 590 C1130 579.3 1128.2 555 1120 548 C1111.8 541 1071.7 533 1060 530 C1048.3 527 1028.2 526.4 1020 522 C1011.8 517.6 996.8 493.4 990 492 C983.2 490.6 969 510.2 962 510 C955 509.8 937.2 494.7 930 490 C922.8 485.3 906.8 475.6 900 470 C893.2 464.4 877.8 446.4 872 442 C866.2 437.6 849.1 426.4 850 432 C850.9 437.6 874.2 479.7 880 490 C885.8 500.3 902.3 518.8 900 520 C897.7 521.2 868.2 506.8 860 500 C851.8 493.2 838.2 467.8 830 462 C821.8 456.2 800.5 451.4 790 450 C779.5 448.6 750.5 446.5 740 450 C729.5 453.5 707 471.8 700 480 C693 488.2 689.3 514.2 680 520 C670.7 525.8 630.5 531.2 620 530 C609.5 528.8 592.3 517 590 510 C587.7 503 594.2 477 600 470 C605.8 463 629.5 453.5 640 450 C650.5 446.5 684.2 445.8 690 440 C695.8 434.2 684.2 407 690 400 C695.8 393 728.3 385.8 740 380 C751.7 374.2 779.5 356.8 790 350 C800.5 343.2 820.7 324.3 830 322 C839.3 319.7 859.5 331.4 870 330 C880.5 328.6 909.5 315.6 920 310 C930.5 304.4 958.8 287.6 960 282 C961.2 276.4 937 261.1 930 262 C923 262.9 908.2 285.6 900 290 C891.8 294.4 868.2 300 860 300 C851.8 300 835.8 293.5 830 290 C824.2 286.5 807.7 275.8 810 270 C812.3 264.2 839.5 246.4 850 240 C860.5 233.6 887.2 218.5 900 215 C912.8 211.5 946 207.7 960 210 C974 212.3 1006 234.4 1020 235 C1034 235.6 1064.8 219.1 1080 215 C1095.2 210.9 1138.3 209.9 1150 200 C1161.7 190.1 1150.8 135.8 1180 130Z" fill="#000"/>
<path d="M1020 462 C1021.3 453.7 1039.3 424.3 1050 420 C1060.7 415.7 1085.3 425.7 1100 430 C1114.7 434.3 1153.3 446.4 1160 452 C1166.7 457.6 1159.3 468 1150 472 C1140.7 476 1104.7 480.7 1090 482 C1075.3 483.3 1049.3 484.7 1040 482 C1030.7 479.3 1018.7 470.3 1020 462Z" fill="#fff"/>
<path d="M1210 415 C1212.4 408.3 1233.1 396.7 1240 400 C1246.9 403.3 1255.1 429.3 1262 440 C1268.9 450.7 1285.3 469.3 1292 480 C1298.7 490.7 1313.3 514.4 1312 520 C1310.7 525.6 1290.3 527.3 1282 522 C1273.7 516.7 1258 489.6 1250 480 C1242 470.4 1227.3 458.7 1222 450 C1216.7 441.3 1207.6 421.7 1210 415Z" fill="#fff"/>
<path d="M1290 630 C1292.7 626.7 1312 621 1320 625 C1328 629 1340.4 652 1350 660 C1359.6 668 1389.1 678.9 1392 685 C1394.9 691.1 1380.3 706.7 1372 706 C1363.7 705.3 1339.6 687.5 1330 680 C1320.4 672.5 1305.3 656.7 1300 650 C1294.7 643.3 1287.3 633.3 1290 630Z" fill="#fff"/>
<path d="M650 340 C654 333.9 680.4 314 690 310 C699.6 306 719.1 306 722 310 C724.9 314 710.7 334.7 712 340 C713.3 345.3 734.9 346.5 732 350 C729.1 353.5 699.6 365.2 690 366 C680.4 366.8 665.3 359.5 660 356 C654.7 352.5 646 346.1 650 340Z" fill="#000"/>
<path d="M680 330 L705 322 L700 345Z" fill="#fff"/>
<path d="M520 240 C535.7 227.7 621.3 173.3 640 160 C658.7 146.7 644 140.7 660 140 C676 139.3 754.7 149 760 155 C765.3 161 716 179 700 185 C684 191 658.7 192.7 640 200 C621.3 207.3 575.7 233.1 560 240 C544.3 246.9 527.3 252 522 252 C516.7 252 504.3 252.3 520 240Z" fill="#000"/>
<path d="M345 322 C351.7 314.4 411.3 272.3 420 268 C428.7 263.7 416.7 282.4 410 290 C403.3 297.6 378.7 320.7 370 325 C361.3 329.3 338.3 329.6 345 322Z" fill="#000"/>
<path d="M655 232 C659.3 229.9 685.6 226.7 690 228 C694.4 229.3 692.3 239.9 688 242 C683.7 244.1 662.4 245.3 658 244 C653.6 242.7 650.7 234.1 655 232Z" fill="#000"/>
<path d="M60 880 C68 866.7 89.3 973.3 100 1000 C110.7 1026.7 126.7 1062.7 140 1080 C153.3 1097.3 185.3 1118 200 1130 C214.7 1142 242.5 1154 250 1170 C257.5 1186 253.3 1231.3 256 1250 C258.7 1268.7 264.7 1294 270 1310 C275.3 1326 293.9 1353.7 296 1370 C298.1 1386.3 298.8 1425.3 286 1432 C273.2 1438.7 224.8 1437.6 200 1420 C175.2 1402.4 121.3 1342.7 100 1300 C78.7 1257.3 45.3 1156 40 1100 C34.7 1044 52 893.3 60 880Z" fill="#000"/>
<path d="M1330 1290 C1331.6 1294 1319.7 1324 1312 1340 C1304.3 1356 1281.3 1395.9 1272 1410 C1262.7 1424.1 1247.6 1444.7 1242 1446 C1236.4 1447.3 1228.3 1432.8 1230 1420 C1231.7 1407.2 1245.7 1364.7 1255 1350 C1264.3 1335.3 1290 1318 1300 1310 C1310 1302 1328.4 1286 1330 1290Z" fill="#000"/>
<path d="M715 485 L740 478 L735 498Z" fill="#000"/></g>
</g>
<g transform="translate(690 1400) scale(0.18785)">
<path d="M380 272 C386 262.7 409.3 238.8 420 230 C430.7 221.2 449.3 208.5 460 206 C470.7 203.5 489.3 211 500 211 C510.7 211 529.3 204 540 206 C550.7 208 569.3 218 580 226 C590.7 234 613.3 256.1 620 266 C626.7 275.9 629.2 282.8 630 300 C630.8 317.2 643.3 379 626 395 C608.7 411 533.1 420.4 500 420 C466.9 419.6 394.7 408 378 392 C361.3 376 374.7 316 375 300 C375.3 284 374 281.3 380 272Z" fill="#000"/>
<path d="M378 385 C399.3 382.2 467.1 374.3 500 375 C532.9 375.7 602.3 386 625 390 C647.7 394 660 398.3 670 405 C680 411.7 693.3 428.7 700 440 C706.7 451.3 716.5 474 720 490 C723.5 506 726 542.7 726 560 C726 577.3 723.2 605.1 720 620 C716.8 634.9 731.3 662.7 702 672 C672.7 681.3 558.4 690.5 500 690 C441.6 689.5 296.8 680 264 668 C231.2 656 255.3 617.1 254 600 C252.7 582.9 251.9 556 254 540 C256.1 524 263.9 494.7 270 480 C276.1 465.3 290.7 441.2 300 430 C309.3 418.8 329.6 402 340 396 C350.4 390 356.7 387.8 378 385Z" fill="#000"/>
<path d="M340 668 C370.4 662.7 460 660 500 660 C540 660 615.7 662.7 640 668 C664.3 673.3 672.4 691.5 682 700 C691.6 708.5 706.1 720 712 732 C717.9 744 722.3 770.3 726 790 C729.7 809.7 737.3 852 740 880 C742.7 908 745.2 964 746 1000 C746.8 1036 746.8 1110 746 1150 C745.2 1190 742.1 1266.7 740 1300 C737.9 1333.3 734 1376 730 1400 C726 1424 716.7 1458.7 710 1480 C703.3 1501.3 689.3 1540 680 1560 C670.7 1580 652 1614 640 1630 C628 1646 603.3 1668.5 590 1680 C576.7 1691.5 553.3 1709.3 540 1716 C526.7 1722.7 503.3 1729.5 490 1730 C476.7 1730.5 453.3 1725.3 440 1720 C426.7 1714.7 403.3 1700.7 390 1690 C376.7 1679.3 352.7 1656 340 1640 C327.3 1624 305.7 1590 295 1570 C284.3 1550 268 1512.7 260 1490 C252 1467.3 240.3 1425.3 235 1400 C229.7 1374.7 222.4 1333.3 220 1300 C217.6 1266.7 216.9 1190 217 1150 C217.1 1110 219.9 1036 221 1000 C222.1 964 223.1 908 225 880 C226.9 852 232.2 809.7 235 790 C237.8 770.3 241.1 744 246 732 C250.9 720 259.5 708.5 272 700 C284.5 691.5 309.6 673.3 340 668Z" fill="#000"/>
<path d="M262 672 L340 672 L342 690 L300 688 L262 700Z" fill="#fff"/>
<path d="M624 676 L704 672 L704 700 L660 688 L624 690Z" fill="#fff"/>
<path d="M392 260 L172 78" fill="none" stroke="#000" stroke-width="23" stroke-linecap="round" stroke-linejoin="round"/>
<path d="M623 270 L835 82" fill="none" stroke="#000" stroke-width="23" stroke-linecap="round" stroke-linejoin="round"/>
<path d="M270 505 C262.5 502.8 237.3 504.5 225 492 C212.7 479.5 204.2 452 196 430 C187.8 408 180.3 381.7 176 360 C171.7 338.3 171 310 170 300" fill="none" stroke="#000" stroke-width="40" stroke-linecap="round" stroke-linejoin="round"/>
<path d="M185 292 C175.8 285 145.5 262.7 130 250 C114.5 237.3 98.3 221.7 92 216" fill="none" stroke="#000" stroke-width="19" stroke-linecap="round" stroke-linejoin="round"/>
<path d="M715 495 C722.5 492.8 747.2 494.5 760 482 C772.8 469.5 783.7 442 792 420 C800.3 398 806 370 810 350 C814 330 815 308.3 816 300" fill="none" stroke="#000" stroke-width="40" stroke-linecap="round" stroke-linejoin="round"/>
<path d="M812 285 C821.7 278.3 852.7 255.8 870 245 C887.3 234.2 908.3 224.2 916 220" fill="none" stroke="#000" stroke-width="19" stroke-linecap="round" stroke-linejoin="round"/>
<path d="M245 815 C235.5 820 200.8 832.5 188 845 C175.2 857.5 171.3 882.5 168 890" fill="none" stroke="#000" stroke-width="54" stroke-linecap="round" stroke-linejoin="round"/>
<path d="M168 890 C166.7 905 161.7 953.3 160 980 C158.3 1006.7 158.3 1038.3 158 1050" fill="none" stroke="#000" stroke-width="38" stroke-linecap="round" stroke-linejoin="round"/>
<path d="M155 1056 C146.7 1066.7 117.8 1101 105 1120 C92.2 1139 80.5 1157.3 78 1170 C75.5 1182.7 88 1191.7 90 1196" fill="none" stroke="#000" stroke-width="19" stroke-linecap="round" stroke-linejoin="round"/>
<path d="M722 795 C733 800 773.7 813.2 788 825 C802.3 836.8 804.7 859.2 808 866" fill="none" stroke="#000" stroke-width="54" stroke-linecap="round" stroke-linejoin="round"/>
<path d="M812 872 C814.3 888.3 822 940.3 826 970 C830 999.7 834.3 1036.7 836 1050" fill="none" stroke="#000" stroke-width="38" stroke-linecap="round" stroke-linejoin="round"/>
<path d="M838 1056 C846.7 1066.7 876.7 1101 890 1120 C903.3 1139 915 1157 918 1170 C921 1183 909.7 1193.3 908 1198" fill="none" stroke="#000" stroke-width="19" stroke-linecap="round" stroke-linejoin="round"/>
<path d="M235 1240 C227.8 1249.2 200.8 1278.3 192 1295 C183.2 1311.7 183.7 1332.5 182 1340" fill="none" stroke="#000" stroke-width="54" stroke-linecap="round" stroke-linejoin="round"/>
<path d="M182 1345 C185 1367.5 192.7 1437.5 200 1480 C207.3 1522.5 221.7 1580 226 1600" fill="none" stroke="#000" stroke-width="38" stroke-linecap="round" stroke-linejoin="round"/>
<path d="M226 1606 C215.8 1618.3 181 1659.3 165 1680 C149 1700.7 134.2 1717.3 130 1730 C125.8 1742.7 138.3 1751.7 140 1756" fill="none" stroke="#000" stroke-width="19" stroke-linecap="round" stroke-linejoin="round"/>
<path d="M742 1215 C749.7 1223.3 778.3 1247.2 788 1265 C797.7 1282.8 798 1312.5 800 1322" fill="none" stroke="#000" stroke-width="54" stroke-linecap="round" stroke-linejoin="round"/>
<path d="M800 1326 C799.3 1350 798.3 1426 796 1470 C793.7 1514 787.7 1570 786 1590" fill="none" stroke="#000" stroke-width="38" stroke-linecap="round" stroke-linejoin="round"/>
<path d="M786 1594 C793.3 1603.3 816.7 1630.7 830 1650 C843.3 1669.3 860 1694.7 866 1710 C872 1725.3 866 1736.7 866 1742" fill="none" stroke="#000" stroke-width="19" stroke-linecap="round" stroke-linejoin="round"/>
</g>
<g transform="translate(1650 1440) scale(0.14365)">
<g stroke="#000" stroke-width="10" stroke-linejoin="round"><path d="M140 320 L230 305 L310 290 L350 240 L380 235 L400 270 L440 295 L465 320 L480 280 L510 240 L525 225 L545 250 L590 260 L630 255 L640 215 L670 210 L690 180 L720 175 L770 180 L800 155 L880 150 L940 135 L960 170 L1000 190 L1080 200 L1170 215 L1150 245 L1150 300 L1160 320 L1200 350 L1180 352 L1150 335 L1100 345 L1030 365 L980 390 L970 430 L990 460 L970 490 L965 530 L985 570 L1030 600 L1100 635 L1160 660 L1190 720 L1220 790 L1270 840 L1330 880 L1390 910 L1470 915 L1540 910 L1550 930 L1510 965 L1560 990 L1640 1020 L1700 1045 L1760 1080 L1820 1105 L1870 1145 L1895 1180 L1880 1220 L1855 1225 L1825 1200 L1810 1160 L1760 1150 L1700 1125 L1670 1125 L1640 1160 L1610 1210 L1600 1250 L1650 1260 L1690 1290 L1695 1350 L1650 1355 L1610 1380 L1600 1430 L1560 1470 L1530 1500 L1480 1500 L1470 1470 L1500 1440 L1510 1395 L1550 1385 L1540 1320 L1510 1260 L1490 1215 L1470 1190 L1420 1190 L1370 1160 L1350 1110 L1300 1100 L1250 1080 L1200 1030 L1160 1010 L1080 1005 L1020 975 L960 930 L900 880 L850 840 L800 830 L750 790 L700 750 L670 680 L655 610 L590 580 L510 550 L430 535 L380 570 L330 605 L260 625 L275 590 L220 575 L160 550 L150 520 L175 480 L120 440 L185 410 L165 360Z" fill="#000"/>
<path d="M345 1080 L360 1030 L380 1060 L440 1045 L490 1015 L525 1000 L560 1040 L580 1100 L580 1140 L560 1180 L570 1230 L555 1290 L545 1330 L500 1310 L470 1330 L450 1360 L410 1355 L370 1335 L385 1290 L395 1220 L385 1170 L390 1120 L350 1100Z" fill="#000"/>
<path d="M985 1520 L1020 1480 L1060 1480 L1110 1465 L1170 1495 L1250 1490 L1330 1480 L1400 1465 L1455 1460 L1430 1510 L1400 1560 L1385 1600 L1410 1640 L1380 1690 L1330 1685 L1290 1665 L1260 1635 L1200 1625 L1140 1590 L1080 1565 L1020 1555 L990 1540Z" fill="#000"/></g>
</g>
<g transform="translate(1960 1400) scale(0.17680)">
<path d="M760 262 C784 260.7 827.3 268.6 850 275 C872.7 281.4 910 297.3 930 310 C950 322.7 984.7 352.7 1000 370 C1015.3 387.3 1035 420 1045 440 C1055 460 1069 498.7 1075 520 C1081 541.3 1089.3 578.7 1090 600 C1090.7 621.3 1084.7 661.3 1080 680 C1075.3 698.7 1057.7 721.3 1055 740 C1052.3 758.7 1057.3 798.7 1060 820 C1062.7 841.3 1071 878.7 1075 900 C1079 921.3 1086.7 956 1090 980 C1093.3 1004 1099.3 1053.3 1100 1080 C1100.7 1106.7 1098.3 1154.7 1095 1180 C1091.7 1205.3 1082.3 1248.7 1075 1270 C1067.7 1291.3 1051.3 1324 1040 1340 C1028.7 1356 1004.7 1376.7 990 1390 C975.3 1403.3 946 1426.7 930 1440 C914 1453.3 884.7 1478.7 870 1490 C855.3 1501.3 832 1520.3 820 1525 C808 1529.7 792 1528.3 780 1525 C768 1521.7 744.7 1510 730 1500 C715.3 1490 687.3 1464.7 670 1450 C652.7 1435.3 617.3 1406 600 1390 C582.7 1374 554 1348.7 540 1330 C526 1311.3 504.3 1274 495 1250 C485.7 1226 474 1176.7 470 1150 C466 1123.3 463.7 1076.7 465 1050 C466.3 1023.3 476 975.3 480 950 C484 924.7 492.3 882.7 495 860 C497.7 837.3 498 798.7 500 780 C502 761.3 511.3 737.3 510 720 C508.7 702.7 493.3 670 490 650 C486.7 630 483.7 591.3 485 570 C486.3 548.7 492.7 512.7 500 490 C507.3 467.3 526.7 421.3 540 400 C553.3 378.7 582.7 345.3 600 330 C617.3 314.7 648.7 294.1 670 285 C691.3 275.9 736 263.3 760 262Z" fill="#000"/>
<path d="M640 312 C626.7 298.3 588.3 254.5 560 230 C531.7 205.5 505.3 186.3 470 165 C434.7 143.7 368.3 112.5 348 102" fill="none" stroke="#000" stroke-width="16" stroke-linecap="round" stroke-linejoin="round"/>
<path d="M940 312 C951.7 299.2 983.3 258.7 1010 235 C1036.7 211.3 1065.3 191.5 1100 170 C1134.7 148.5 1198.3 116.7 1218 106" fill="none" stroke="#000" stroke-width="16" stroke-linecap="round" stroke-linejoin="round"/>
<ellipse cx="462" cy="580" rx="45" ry="42" fill="#000"/>
<path d="M435 545 C434.5 527.5 431.8 475 432 440 C432.2 405 435.3 352.5 436 335" fill="none" stroke="#000" stroke-width="58" stroke-linecap="butt" stroke-linejoin="round"/>
<path d="M440 335 C421.7 328.3 365.8 308.3 330 295 C294.2 281.7 242.5 261.7 225 255" fill="none" stroke="#000" stroke-width="34" stroke-linecap="round" stroke-linejoin="round"/>
<path d="M225 255 L195 275" fill="none" stroke="#000" stroke-width="10" stroke-linecap="round" stroke-linejoin="round"/>
<path d="M225 255 L205 228" fill="none" stroke="#000" stroke-width="10" stroke-linecap="round" stroke-linejoin="round"/>
<ellipse cx="1108" cy="580" rx="45" ry="42" fill="#000"/>
<path d="M1135 545 C1135.5 527.5 1138.5 475 1138 440 C1137.5 405 1133 352.5 1132 335" fill="none" stroke="#000" stroke-width="58" stroke-linecap="butt" stroke-linejoin="round"/>
<path d="M1130 335 C1148.3 329.2 1204.2 312.8 1240 300 C1275.8 287.2 1327.5 265 1345 258" fill="none" stroke="#000" stroke-width="34" stroke-linecap="round" stroke-linejoin="round"/>
<path d="M1345 258 L1372 272" fill="none" stroke="#000" stroke-width="10" stroke-linecap="round" stroke-linejoin="round"/>
<path d="M1345 258 L1355 232" fill="none" stroke="#000" stroke-width="10" stroke-linecap="round" stroke-linejoin="round"/>
<ellipse cx="455" cy="765" rx="58" ry="36" fill="#000"/>
<path d="M405 785 C395.8 795.8 368.3 830 350 850 C331.7 870 304.2 895.8 295 905" fill="none" stroke="#000" stroke-width="50" stroke-linecap="round" stroke-linejoin="round"/>
<path d="M295 905 C280.8 920.8 238.3 968.3 210 1000 C181.7 1031.7 139.2 1079.2 125 1095" fill="none" stroke="#000" stroke-width="23" stroke-linecap="round" stroke-linejoin="round"/>
<ellipse cx="1112" cy="765" rx="58" ry="36" fill="#000"/>
<path d="M1162 785 C1170.8 795.8 1197.3 830 1215 850 C1232.7 870 1259.2 895.8 1268 905" fill="none" stroke="#000" stroke-width="50" stroke-linecap="round" stroke-linejoin="round"/>
<path d="M1268 905 C1283.3 921.7 1330.5 972.8 1360 1005 C1389.5 1037.2 1430.8 1082.5 1445 1098" fill="none" stroke="#000" stroke-width="23" stroke-linecap="round" stroke-linejoin="round"/>
<path d="M490 960 C474.2 968.3 414.7 995.3 395 1010 C375.3 1024.7 375.8 1041.7 372 1048" fill="none" stroke="#000" stroke-width="62" stroke-linecap="round" stroke-linejoin="round"/>
<path d="M368 1050 C364.2 1076.7 351.7 1157 345 1210 C338.3 1263 330.8 1341.7 328 1368" fill="none" stroke="#000" stroke-width="46" stroke-linecap="butt" stroke-linejoin="round"/>
<path d="M328 1368 C320 1391.7 295.5 1463.8 280 1510 C264.5 1556.2 242.5 1622.5 235 1645" fill="none" stroke="#000" stroke-width="26" stroke-linecap="round" stroke-linejoin="round"/>
<path d="M1080 960 C1096.3 968.3 1158 995.3 1178 1010 C1198 1024.7 1196.3 1041.7 1200 1048" fill="none" stroke="#000" stroke-width="62" stroke-linecap="round" stroke-linejoin="round"/>
<path d="M1204 1050 C1207.5 1076.7 1219 1157 1225 1210 C1231 1263 1237.5 1341.7 1240 1368" fill="none" stroke="#000" stroke-width="46" stroke-linecap="butt" stroke-linejoin="round"/>
<path d="M1240 1368 C1248.3 1391.7 1274.2 1463.3 1290 1510 C1305.8 1556.7 1327.5 1625 1335 1648" fill="none" stroke="#000" stroke-width="26" stroke-linecap="round" stroke-linejoin="round"/>
</g>
</svg>
</body></html>
